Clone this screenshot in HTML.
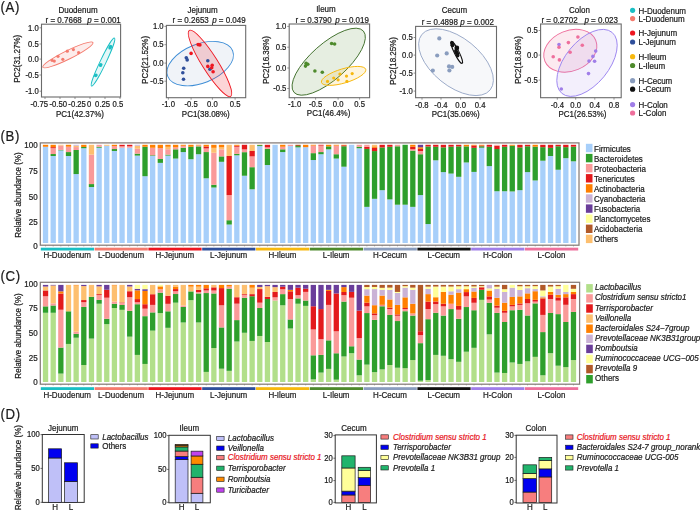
<!DOCTYPE html>
<html><head><meta charset="utf-8"><style>
html,body{margin:0;padding:0;background:#fff;width:700px;height:511px;overflow:hidden}
svg{display:block}
text{font-family:"Liberation Sans", sans-serif}
text.g{}
</style></head><body>
<svg width="700" height="511" viewBox="0 0 700 511" font-family='"Liberation Sans", sans-serif'>
<rect width="700" height="511" fill="#fff"/>
<ellipse cx="67.9" cy="54.9" rx="28.0" ry="4.3" transform="rotate(-26.4 67.9 54.9)" fill="#F47B6E" fill-opacity="0.14" stroke="#F47B6E" stroke-width="0.9"/>
<ellipse cx="103.0" cy="62.1" rx="26.6" ry="2.9" transform="rotate(-64.4 103.0 62.1)" fill="#1ABFC4" fill-opacity="0.12" stroke="#1ABFC4" stroke-width="0.9"/>
<circle cx="52.1" cy="60.3" r="1.6" fill="#F47B6E"/>
<circle cx="54.3" cy="61.1" r="1.6" fill="#F47B6E"/>
<circle cx="58" cy="56.3" r="1.6" fill="#F47B6E"/>
<circle cx="62.8" cy="59.3" r="1.6" fill="#F47B6E"/>
<circle cx="67.3" cy="51.2" r="1.6" fill="#F47B6E"/>
<circle cx="73.4" cy="49.6" r="1.6" fill="#F47B6E"/>
<circle cx="78.6" cy="52.6" r="1.6" fill="#F47B6E"/>
<circle cx="96.1" cy="75.1" r="1.6" fill="#1ABFC4"/>
<circle cx="95.5" cy="75.6" r="1.6" fill="#1ABFC4"/>
<circle cx="100.5" cy="65.4" r="1.6" fill="#1ABFC4"/>
<circle cx="100.9" cy="64.6" r="1.6" fill="#1ABFC4"/>
<circle cx="110.2" cy="47.1" r="1.6" fill="#1ABFC4"/>
<circle cx="110.6" cy="46.3" r="1.6" fill="#1ABFC4"/>
<circle cx="109.9" cy="48.0" r="1.6" fill="#1ABFC4"/>
<line x1="39.50" y1="27.80" x2="41.50" y2="27.80" stroke="#6b6b6b" stroke-width="0.7"/>
<line x1="39.50" y1="44.00" x2="41.50" y2="44.00" stroke="#6b6b6b" stroke-width="0.7"/>
<line x1="39.50" y1="59.10" x2="41.50" y2="59.10" stroke="#6b6b6b" stroke-width="0.7"/>
<line x1="39.50" y1="75.00" x2="41.50" y2="75.00" stroke="#6b6b6b" stroke-width="0.7"/>
<line x1="39.50" y1="91.20" x2="41.50" y2="91.20" stroke="#6b6b6b" stroke-width="0.7"/>
<line x1="45.00" y1="97.00" x2="45.00" y2="99.00" stroke="#6b6b6b" stroke-width="0.7"/>
<line x1="60.00" y1="97.00" x2="60.00" y2="99.00" stroke="#6b6b6b" stroke-width="0.7"/>
<line x1="75.00" y1="97.00" x2="75.00" y2="99.00" stroke="#6b6b6b" stroke-width="0.7"/>
<line x1="90.00" y1="97.00" x2="90.00" y2="99.00" stroke="#6b6b6b" stroke-width="0.7"/>
<line x1="105.00" y1="97.00" x2="105.00" y2="99.00" stroke="#6b6b6b" stroke-width="0.7"/>
<line x1="120.00" y1="97.00" x2="120.00" y2="99.00" stroke="#6b6b6b" stroke-width="0.7"/>
<rect x="41.50" y="24.20" width="79.10" height="72.80" fill="none" stroke="#6b6b6b" stroke-width="1.1"/>
<ellipse cx="200.2" cy="63.6" rx="34.9" ry="19.5" transform="rotate(-21.6 200.2 63.6)" fill="#2F4F9B" fill-opacity="0.07" stroke="#3D8DD6" stroke-width="0.9"/>
<ellipse cx="210.0" cy="63.4" rx="38.9" ry="7.8" transform="rotate(57.8 210.0 63.4)" fill="#EE1620" fill-opacity="0.18" stroke="#EE1620" stroke-width="0.9"/>
<circle cx="186.3" cy="57.8" r="1.8" fill="#2F4F9B"/>
<circle cx="187.2" cy="59.9" r="1.8" fill="#2F4F9B"/>
<circle cx="183.7" cy="68.2" r="1.8" fill="#2F4F9B"/>
<circle cx="182.8" cy="72.7" r="1.8" fill="#2F4F9B"/>
<circle cx="183.5" cy="79.3" r="1.8" fill="#2F4F9B"/>
<circle cx="207.8" cy="60.8" r="1.8" fill="#2F4F9B"/>
<circle cx="209.9" cy="69.2" r="1.8" fill="#2F4F9B"/>
<circle cx="198.1" cy="44.6" r="1.8" fill="#EE1620"/>
<circle cx="199.9" cy="44.9" r="1.8" fill="#EE1620"/>
<circle cx="191.1" cy="53.4" r="1.8" fill="#EE1620"/>
<circle cx="207.8" cy="66.4" r="1.8" fill="#EE1620"/>
<circle cx="212.2" cy="65.2" r="1.8" fill="#EE1620"/>
<circle cx="211.7" cy="67.8" r="1.8" fill="#EE1620"/>
<circle cx="213.1" cy="71.7" r="1.8" fill="#EE1620"/>
<line x1="164.40" y1="26.40" x2="166.40" y2="26.40" stroke="#6b6b6b" stroke-width="0.7"/>
<line x1="164.40" y1="44.70" x2="166.40" y2="44.70" stroke="#6b6b6b" stroke-width="0.7"/>
<line x1="164.40" y1="63.10" x2="166.40" y2="63.10" stroke="#6b6b6b" stroke-width="0.7"/>
<line x1="164.40" y1="81.20" x2="166.40" y2="81.20" stroke="#6b6b6b" stroke-width="0.7"/>
<line x1="168.40" y1="97.70" x2="168.40" y2="99.70" stroke="#6b6b6b" stroke-width="0.7"/>
<line x1="191.10" y1="97.70" x2="191.10" y2="99.70" stroke="#6b6b6b" stroke-width="0.7"/>
<line x1="212.40" y1="97.70" x2="212.40" y2="99.70" stroke="#6b6b6b" stroke-width="0.7"/>
<line x1="235.10" y1="97.70" x2="235.10" y2="99.70" stroke="#6b6b6b" stroke-width="0.7"/>
<rect x="166.40" y="25.40" width="79.30" height="72.30" fill="none" stroke="#6b6b6b" stroke-width="1.1"/>
<ellipse cx="328.7" cy="61.7" rx="46.3" ry="18.0" transform="rotate(-41.5 328.7 61.7)" fill="#4E8A2C" fill-opacity="0.14" stroke="#3F6E2A" stroke-width="0.9"/>
<ellipse cx="343.6" cy="75.9" rx="23.1" ry="7.1" transform="rotate(-16.6 343.6 75.9)" fill="#F7B80E" fill-opacity="0.14" stroke="#F7B80E" stroke-width="0.9"/>
<circle cx="306.1" cy="63.4" r="1.8" fill="#4E8A2C"/>
<circle cx="305.5" cy="66.1" r="1.8" fill="#4E8A2C"/>
<circle cx="307.8" cy="64.3" r="1.8" fill="#4E8A2C"/>
<circle cx="314.9" cy="71" r="1.8" fill="#4E8A2C"/>
<circle cx="322.3" cy="72.2" r="1.8" fill="#4E8A2C"/>
<circle cx="331.6" cy="43.5" r="1.8" fill="#4E8A2C"/>
<circle cx="334.6" cy="44" r="1.8" fill="#4E8A2C"/>
<circle cx="327.5" cy="81.4" r="1.6" fill="#F7B80E"/>
<circle cx="333.7" cy="78" r="1.6" fill="#F7B80E"/>
<circle cx="338.1" cy="79.8" r="1.6" fill="#F7B80E"/>
<circle cx="339.9" cy="74" r="1.6" fill="#F7B80E"/>
<circle cx="346.5" cy="76.1" r="1.6" fill="#F7B80E"/>
<circle cx="346.9" cy="81.4" r="1.6" fill="#F7B80E"/>
<circle cx="352.2" cy="73.6" r="1.6" fill="#F7B80E"/>
<line x1="287.20" y1="26.40" x2="289.20" y2="26.40" stroke="#6b6b6b" stroke-width="0.7"/>
<line x1="287.20" y1="47.20" x2="289.20" y2="47.20" stroke="#6b6b6b" stroke-width="0.7"/>
<line x1="287.20" y1="68.00" x2="289.20" y2="68.00" stroke="#6b6b6b" stroke-width="0.7"/>
<line x1="287.20" y1="88.50" x2="289.20" y2="88.50" stroke="#6b6b6b" stroke-width="0.7"/>
<line x1="294.60" y1="97.70" x2="294.60" y2="99.70" stroke="#6b6b6b" stroke-width="0.7"/>
<line x1="315.60" y1="97.70" x2="315.60" y2="99.70" stroke="#6b6b6b" stroke-width="0.7"/>
<line x1="338.10" y1="97.70" x2="338.10" y2="99.70" stroke="#6b6b6b" stroke-width="0.7"/>
<line x1="359.60" y1="97.70" x2="359.60" y2="99.70" stroke="#6b6b6b" stroke-width="0.7"/>
<rect x="289.20" y="24.00" width="80.40" height="73.70" fill="none" stroke="#6b6b6b" stroke-width="1.1"/>
<ellipse cx="456.0" cy="62.2" rx="44" ry="24" transform="rotate(39 456.0 62.2)" fill="#8A9DBE" fill-opacity="0.07" stroke="#9AA9C8" stroke-width="0.9"/>
<ellipse cx="456.7" cy="52.4" rx="12.2" ry="2.3" transform="rotate(63.5 456.7 52.4)" fill="#ffffff" fill-opacity="0.6" stroke="#111" stroke-width="1.1"/>
<circle cx="439.3" cy="38.4" r="2.1" fill="#8A9DBE"/>
<circle cx="437.2" cy="55.5" r="2.1" fill="#8A9DBE"/>
<circle cx="446.7" cy="53.4" r="2.1" fill="#8A9DBE"/>
<circle cx="432.8" cy="70.6" r="2.1" fill="#8A9DBE"/>
<circle cx="449" cy="66.4" r="2.1" fill="#8A9DBE"/>
<circle cx="452.2" cy="66.9" r="2.1" fill="#8A9DBE"/>
<circle cx="449.4" cy="70.5" r="2.1" fill="#8A9DBE"/>
<circle cx="452.1" cy="42.8" r="1.9" fill="#111111"/>
<circle cx="452.5" cy="45.3" r="1.9" fill="#111111"/>
<circle cx="456.8" cy="47.9" r="1.9" fill="#111111"/>
<circle cx="455.9" cy="50.9" r="1.9" fill="#111111"/>
<circle cx="456.6" cy="52.4" r="1.9" fill="#111111"/>
<circle cx="457.4" cy="53.8" r="1.9" fill="#111111"/>
<circle cx="457.6" cy="55.6" r="1.9" fill="#111111"/>
<circle cx="456.8" cy="47.9" r="2.4" fill="#111111"/>
<line x1="413.60" y1="37.50" x2="415.60" y2="37.50" stroke="#6b6b6b" stroke-width="0.7"/>
<line x1="413.60" y1="55.10" x2="415.60" y2="55.10" stroke="#6b6b6b" stroke-width="0.7"/>
<line x1="413.60" y1="73.10" x2="415.60" y2="73.10" stroke="#6b6b6b" stroke-width="0.7"/>
<line x1="413.60" y1="91.10" x2="415.60" y2="91.10" stroke="#6b6b6b" stroke-width="0.7"/>
<line x1="422.00" y1="97.70" x2="422.00" y2="99.70" stroke="#6b6b6b" stroke-width="0.7"/>
<line x1="441.00" y1="97.70" x2="441.00" y2="99.70" stroke="#6b6b6b" stroke-width="0.7"/>
<line x1="460.60" y1="97.70" x2="460.60" y2="99.70" stroke="#6b6b6b" stroke-width="0.7"/>
<line x1="480.10" y1="97.70" x2="480.10" y2="99.70" stroke="#6b6b6b" stroke-width="0.7"/>
<rect x="415.60" y="26.40" width="80.90" height="71.30" fill="none" stroke="#6b6b6b" stroke-width="1.1"/>
<ellipse cx="570.3" cy="50.75" rx="27.5" ry="20.2" transform="rotate(-22.5 570.3 50.75)" fill="#EE6F9C" fill-opacity="0.15" stroke="#EE6F9C" stroke-width="0.9"/>
<ellipse cx="587.0" cy="62.9" rx="39.5" ry="21.8" transform="rotate(-50.6 587.0 62.9)" fill="#A07EE8" fill-opacity="0.12" stroke="#9C86F0" stroke-width="0.9"/>
<circle cx="559" cy="44.6" r="1.8" fill="#A07EE8"/>
<circle cx="589" cy="61.1" r="1.8" fill="#A07EE8"/>
<circle cx="592.9" cy="56.4" r="1.8" fill="#A07EE8"/>
<circle cx="594.6" cy="61.3" r="1.8" fill="#A07EE8"/>
<circle cx="595.7" cy="51.1" r="1.8" fill="#A07EE8"/>
<circle cx="588.5" cy="73.6" r="1.8" fill="#A07EE8"/>
<circle cx="561.3" cy="89" r="1.8" fill="#A07EE8"/>
<circle cx="559" cy="47.2" r="1.8" fill="#EE6F9C"/>
<circle cx="568.4" cy="42.6" r="1.8" fill="#EE6F9C"/>
<circle cx="577.9" cy="37" r="1.8" fill="#EE6F9C"/>
<circle cx="582.3" cy="45.3" r="1.8" fill="#EE6F9C"/>
<circle cx="570.1" cy="52.3" r="1.8" fill="#EE6F9C"/>
<circle cx="553.2" cy="56.7" r="1.8" fill="#EE6F9C"/>
<circle cx="559.4" cy="59.9" r="1.8" fill="#EE6F9C"/>
<line x1="538.60" y1="30.50" x2="540.60" y2="30.50" stroke="#6b6b6b" stroke-width="0.7"/>
<line x1="538.60" y1="55.10" x2="540.60" y2="55.10" stroke="#6b6b6b" stroke-width="0.7"/>
<line x1="538.60" y1="80.10" x2="540.60" y2="80.10" stroke="#6b6b6b" stroke-width="0.7"/>
<line x1="557.30" y1="97.70" x2="557.30" y2="99.70" stroke="#6b6b6b" stroke-width="0.7"/>
<line x1="575.70" y1="97.70" x2="575.70" y2="99.70" stroke="#6b6b6b" stroke-width="0.7"/>
<line x1="594.80" y1="97.70" x2="594.80" y2="99.70" stroke="#6b6b6b" stroke-width="0.7"/>
<line x1="614.00" y1="97.70" x2="614.00" y2="99.70" stroke="#6b6b6b" stroke-width="0.7"/>
<rect x="540.60" y="24.00" width="80.60" height="73.70" fill="none" stroke="#6b6b6b" stroke-width="1.1"/>
<circle cx="632.6" cy="10.3" r="2.6" fill="#1ABFC4"/>
<circle cx="632.6" cy="18.6" r="2.6" fill="#F47B6E"/>
<circle cx="632.6" cy="33.0" r="2.6" fill="#EE1620"/>
<circle cx="632.6" cy="42.0" r="2.6" fill="#2F4F9B"/>
<circle cx="632.6" cy="56.7" r="2.6" fill="#F7B80E"/>
<circle cx="632.6" cy="65.5" r="2.6" fill="#4E8A2C"/>
<circle cx="632.6" cy="80.7" r="2.6" fill="#8A9DBE"/>
<circle cx="632.6" cy="89.2" r="2.6" fill="#111111"/>
<circle cx="632.6" cy="104.6" r="2.6" fill="#A07EE8"/>
<circle cx="632.6" cy="113.0" r="2.6" fill="#EE6F9C"/>
<rect x="42.90" y="146.76" width="5.30" height="96.24" fill="#A7CFFA"/>
<rect x="42.90" y="144.80" width="5.30" height="1.96" fill="#FF7F00"/>
<line x1="45.55" y1="245.20" x2="45.55" y2="246.40" stroke="#6b6b6b" stroke-width="0.6"/>
<rect x="50.55" y="155.99" width="5.30" height="87.01" fill="#A7CFFA"/>
<rect x="50.55" y="154.03" width="5.30" height="1.96" fill="#2E9F2C"/>
<rect x="50.55" y="148.14" width="5.30" height="5.89" fill="#FA9A99"/>
<rect x="50.55" y="147.16" width="5.30" height="0.98" fill="#E31A1C"/>
<rect x="50.55" y="144.80" width="5.30" height="2.36" fill="#FF7F00"/>
<line x1="53.20" y1="245.20" x2="53.20" y2="246.40" stroke="#6b6b6b" stroke-width="0.6"/>
<rect x="58.20" y="150.40" width="5.30" height="92.60" fill="#A7CFFA"/>
<rect x="58.20" y="149.91" width="5.30" height="0.49" fill="#2E9F2C"/>
<rect x="58.20" y="145.49" width="5.30" height="4.42" fill="#FA9A99"/>
<rect x="58.20" y="144.80" width="5.30" height="0.69" fill="#FDBF6F"/>
<line x1="60.85" y1="245.20" x2="60.85" y2="246.40" stroke="#6b6b6b" stroke-width="0.6"/>
<rect x="65.85" y="155.99" width="5.30" height="87.01" fill="#A7CFFA"/>
<rect x="65.85" y="152.07" width="5.30" height="3.93" fill="#2E9F2C"/>
<rect x="65.85" y="146.67" width="5.30" height="5.40" fill="#FA9A99"/>
<rect x="65.85" y="144.80" width="5.30" height="1.87" fill="#FF7F00"/>
<line x1="68.50" y1="245.20" x2="68.50" y2="246.40" stroke="#6b6b6b" stroke-width="0.6"/>
<rect x="73.50" y="174.06" width="5.30" height="68.94" fill="#A7CFFA"/>
<rect x="73.50" y="150.00" width="5.30" height="24.06" fill="#2E9F2C"/>
<rect x="73.50" y="147.06" width="5.30" height="2.95" fill="#FA9A99"/>
<rect x="73.50" y="145.78" width="5.30" height="1.28" fill="#FDBF6F"/>
<rect x="73.50" y="144.80" width="5.30" height="0.98" fill="#CAB2D6"/>
<line x1="76.15" y1="245.20" x2="76.15" y2="246.40" stroke="#6b6b6b" stroke-width="0.6"/>
<rect x="81.16" y="148.24" width="5.30" height="94.76" fill="#A7CFFA"/>
<rect x="81.16" y="146.96" width="5.30" height="1.28" fill="#2E9F2C"/>
<rect x="81.16" y="144.80" width="5.30" height="2.16" fill="#FF7F00"/>
<line x1="83.81" y1="245.20" x2="83.81" y2="246.40" stroke="#6b6b6b" stroke-width="0.6"/>
<rect x="88.81" y="187.03" width="5.30" height="55.97" fill="#A7CFFA"/>
<rect x="88.81" y="184.08" width="5.30" height="2.95" fill="#2E9F2C"/>
<rect x="88.81" y="154.62" width="5.30" height="29.46" fill="#FA9A99"/>
<rect x="88.81" y="144.80" width="5.30" height="9.82" fill="#FDBF6F"/>
<line x1="91.46" y1="245.20" x2="91.46" y2="246.40" stroke="#6b6b6b" stroke-width="0.6"/>
<rect x="96.46" y="147.75" width="5.30" height="95.25" fill="#A7CFFA"/>
<rect x="96.46" y="146.76" width="5.30" height="0.98" fill="#2E9F2C"/>
<rect x="96.46" y="144.80" width="5.30" height="1.96" fill="#FA9A99"/>
<line x1="99.11" y1="245.20" x2="99.11" y2="246.40" stroke="#6b6b6b" stroke-width="0.6"/>
<rect x="104.11" y="145.78" width="5.30" height="97.22" fill="#A7CFFA"/>
<rect x="104.11" y="144.80" width="5.30" height="0.98" fill="#FDBF6F"/>
<line x1="106.76" y1="245.20" x2="106.76" y2="246.40" stroke="#6b6b6b" stroke-width="0.6"/>
<rect x="111.76" y="150.99" width="5.30" height="92.01" fill="#A7CFFA"/>
<rect x="111.76" y="149.02" width="5.30" height="1.96" fill="#2E9F2C"/>
<rect x="111.76" y="146.08" width="5.30" height="2.95" fill="#FA9A99"/>
<rect x="111.76" y="144.80" width="5.30" height="1.28" fill="#FF7F00"/>
<line x1="114.41" y1="245.20" x2="114.41" y2="246.40" stroke="#6b6b6b" stroke-width="0.6"/>
<rect x="119.41" y="147.75" width="5.30" height="95.25" fill="#A7CFFA"/>
<rect x="119.41" y="146.27" width="5.30" height="1.47" fill="#FA9A99"/>
<rect x="119.41" y="144.80" width="5.30" height="1.47" fill="#E31A1C"/>
<line x1="122.06" y1="245.20" x2="122.06" y2="246.40" stroke="#6b6b6b" stroke-width="0.6"/>
<rect x="127.06" y="147.75" width="5.30" height="95.25" fill="#A7CFFA"/>
<rect x="127.06" y="146.27" width="5.30" height="1.47" fill="#FA9A99"/>
<rect x="127.06" y="144.80" width="5.30" height="1.47" fill="#E31A1C"/>
<line x1="129.71" y1="245.20" x2="129.71" y2="246.40" stroke="#6b6b6b" stroke-width="0.6"/>
<rect x="134.71" y="155.60" width="5.30" height="87.40" fill="#A7CFFA"/>
<rect x="134.71" y="153.64" width="5.30" height="1.96" fill="#2E9F2C"/>
<rect x="134.71" y="148.73" width="5.30" height="4.91" fill="#FA9A99"/>
<rect x="134.71" y="145.78" width="5.30" height="2.95" fill="#FDBF6F"/>
<rect x="134.71" y="144.80" width="5.30" height="0.98" fill="#CAB2D6"/>
<line x1="137.36" y1="245.20" x2="137.36" y2="246.40" stroke="#6b6b6b" stroke-width="0.6"/>
<rect x="142.36" y="176.22" width="5.30" height="66.78" fill="#A7CFFA"/>
<rect x="142.36" y="146.76" width="5.30" height="29.46" fill="#2E9F2C"/>
<rect x="142.36" y="144.80" width="5.30" height="1.96" fill="#FF7F00"/>
<line x1="145.01" y1="245.20" x2="145.01" y2="246.40" stroke="#6b6b6b" stroke-width="0.6"/>
<rect x="150.01" y="155.99" width="5.30" height="87.01" fill="#A7CFFA"/>
<rect x="150.01" y="155.31" width="5.30" height="0.69" fill="#2E9F2C"/>
<rect x="150.01" y="147.75" width="5.30" height="7.56" fill="#FA9A99"/>
<rect x="150.01" y="144.80" width="5.30" height="2.95" fill="#FF7F00"/>
<line x1="152.66" y1="245.20" x2="152.66" y2="246.40" stroke="#6b6b6b" stroke-width="0.6"/>
<rect x="157.66" y="162.87" width="5.30" height="80.13" fill="#A7CFFA"/>
<rect x="157.66" y="158.94" width="5.30" height="3.93" fill="#2E9F2C"/>
<rect x="157.66" y="148.14" width="5.30" height="10.80" fill="#FA9A99"/>
<rect x="157.66" y="144.80" width="5.30" height="3.34" fill="#FF7F00"/>
<line x1="160.31" y1="245.20" x2="160.31" y2="246.40" stroke="#6b6b6b" stroke-width="0.6"/>
<rect x="165.32" y="155.60" width="5.30" height="87.40" fill="#A7CFFA"/>
<rect x="165.32" y="154.62" width="5.30" height="0.98" fill="#2E9F2C"/>
<rect x="165.32" y="149.22" width="5.30" height="5.40" fill="#FA9A99"/>
<rect x="165.32" y="146.76" width="5.30" height="2.45" fill="#FDBF6F"/>
<rect x="165.32" y="144.80" width="5.30" height="1.96" fill="#FF7F00"/>
<line x1="167.97" y1="245.20" x2="167.97" y2="246.40" stroke="#6b6b6b" stroke-width="0.6"/>
<rect x="172.97" y="158.55" width="5.30" height="84.45" fill="#A7CFFA"/>
<rect x="172.97" y="149.32" width="5.30" height="9.23" fill="#2E9F2C"/>
<rect x="172.97" y="147.35" width="5.30" height="1.96" fill="#FA9A99"/>
<rect x="172.97" y="144.80" width="5.30" height="2.55" fill="#FF7F00"/>
<line x1="175.62" y1="245.20" x2="175.62" y2="246.40" stroke="#6b6b6b" stroke-width="0.6"/>
<rect x="180.62" y="152.07" width="5.30" height="90.93" fill="#A7CFFA"/>
<rect x="180.62" y="147.75" width="5.30" height="4.32" fill="#2E9F2C"/>
<rect x="180.62" y="145.78" width="5.30" height="1.96" fill="#FA9A99"/>
<rect x="180.62" y="144.80" width="5.30" height="0.98" fill="#FF7F00"/>
<line x1="183.27" y1="245.20" x2="183.27" y2="246.40" stroke="#6b6b6b" stroke-width="0.6"/>
<rect x="188.27" y="159.24" width="5.30" height="83.76" fill="#A7CFFA"/>
<rect x="188.27" y="146.76" width="5.30" height="12.47" fill="#2E9F2C"/>
<rect x="188.27" y="144.80" width="5.30" height="1.96" fill="#FF7F00"/>
<line x1="190.92" y1="245.20" x2="190.92" y2="246.40" stroke="#6b6b6b" stroke-width="0.6"/>
<rect x="195.92" y="154.23" width="5.30" height="88.77" fill="#A7CFFA"/>
<rect x="195.92" y="146.37" width="5.30" height="7.86" fill="#2E9F2C"/>
<rect x="195.92" y="145.39" width="5.30" height="0.98" fill="#FA9A99"/>
<rect x="195.92" y="144.80" width="5.30" height="0.59" fill="#FF7F00"/>
<line x1="198.57" y1="245.20" x2="198.57" y2="246.40" stroke="#6b6b6b" stroke-width="0.6"/>
<rect x="203.57" y="178.29" width="5.30" height="64.71" fill="#A7CFFA"/>
<rect x="203.57" y="152.07" width="5.30" height="26.22" fill="#2E9F2C"/>
<rect x="203.57" y="148.43" width="5.30" height="3.63" fill="#FA9A99"/>
<rect x="203.57" y="146.47" width="5.30" height="1.96" fill="#E31A1C"/>
<rect x="203.57" y="144.80" width="5.30" height="1.67" fill="#FF7F00"/>
<line x1="206.22" y1="245.20" x2="206.22" y2="246.40" stroke="#6b6b6b" stroke-width="0.6"/>
<rect x="211.22" y="187.52" width="5.30" height="55.48" fill="#A7CFFA"/>
<rect x="211.22" y="184.77" width="5.30" height="2.75" fill="#2E9F2C"/>
<rect x="211.22" y="152.75" width="5.30" height="32.01" fill="#FA9A99"/>
<rect x="211.22" y="147.84" width="5.30" height="4.91" fill="#FDBF6F"/>
<rect x="211.22" y="144.80" width="5.30" height="3.04" fill="#FF7F00"/>
<line x1="213.87" y1="245.20" x2="213.87" y2="246.40" stroke="#6b6b6b" stroke-width="0.6"/>
<rect x="218.87" y="161.79" width="5.30" height="81.21" fill="#A7CFFA"/>
<rect x="218.87" y="156.39" width="5.30" height="5.40" fill="#2E9F2C"/>
<rect x="218.87" y="149.32" width="5.30" height="7.07" fill="#FA9A99"/>
<rect x="218.87" y="147.35" width="5.30" height="1.96" fill="#FDBF6F"/>
<rect x="218.87" y="144.80" width="5.30" height="2.55" fill="#FF7F00"/>
<line x1="221.52" y1="245.20" x2="221.52" y2="246.40" stroke="#6b6b6b" stroke-width="0.6"/>
<rect x="226.52" y="224.54" width="5.30" height="18.46" fill="#A7CFFA"/>
<rect x="226.52" y="220.22" width="5.30" height="4.32" fill="#2E9F2C"/>
<rect x="226.52" y="195.08" width="5.30" height="25.14" fill="#FA9A99"/>
<rect x="226.52" y="155.99" width="5.30" height="39.08" fill="#E31A1C"/>
<rect x="226.52" y="144.80" width="5.30" height="11.19" fill="#FDBF6F"/>
<line x1="229.17" y1="245.20" x2="229.17" y2="246.40" stroke="#6b6b6b" stroke-width="0.6"/>
<rect x="234.18" y="155.31" width="5.30" height="87.69" fill="#A7CFFA"/>
<rect x="234.18" y="153.83" width="5.30" height="1.47" fill="#2E9F2C"/>
<rect x="234.18" y="146.76" width="5.30" height="7.07" fill="#FA9A99"/>
<rect x="234.18" y="145.78" width="5.30" height="0.98" fill="#E31A1C"/>
<rect x="234.18" y="144.80" width="5.30" height="0.98" fill="#FF7F00"/>
<line x1="236.83" y1="245.20" x2="236.83" y2="246.40" stroke="#6b6b6b" stroke-width="0.6"/>
<rect x="241.83" y="175.73" width="5.30" height="67.27" fill="#A7CFFA"/>
<rect x="241.83" y="152.17" width="5.30" height="23.57" fill="#2E9F2C"/>
<rect x="241.83" y="149.42" width="5.30" height="2.75" fill="#FA9A99"/>
<rect x="241.83" y="144.80" width="5.30" height="4.62" fill="#E31A1C"/>
<line x1="244.48" y1="245.20" x2="244.48" y2="246.40" stroke="#6b6b6b" stroke-width="0.6"/>
<rect x="249.48" y="189.28" width="5.30" height="53.72" fill="#A7CFFA"/>
<rect x="249.48" y="167.19" width="5.30" height="22.09" fill="#2E9F2C"/>
<rect x="249.48" y="156.39" width="5.30" height="10.80" fill="#FA9A99"/>
<rect x="249.48" y="150.99" width="5.30" height="5.40" fill="#E31A1C"/>
<rect x="249.48" y="144.80" width="5.30" height="6.19" fill="#FDBF6F"/>
<line x1="252.13" y1="245.20" x2="252.13" y2="246.40" stroke="#6b6b6b" stroke-width="0.6"/>
<rect x="257.13" y="146.08" width="5.30" height="96.92" fill="#A7CFFA"/>
<rect x="257.13" y="145.09" width="5.30" height="0.98" fill="#2E9F2C"/>
<rect x="257.13" y="144.80" width="5.30" height="0.29" fill="#FF7F00"/>
<line x1="259.78" y1="245.20" x2="259.78" y2="246.40" stroke="#6b6b6b" stroke-width="0.6"/>
<rect x="264.78" y="165.03" width="5.30" height="77.97" fill="#A7CFFA"/>
<rect x="264.78" y="148.92" width="5.30" height="16.10" fill="#2E9F2C"/>
<rect x="264.78" y="147.35" width="5.30" height="1.57" fill="#FA9A99"/>
<rect x="264.78" y="144.80" width="5.30" height="2.55" fill="#E31A1C"/>
<line x1="267.43" y1="245.20" x2="267.43" y2="246.40" stroke="#6b6b6b" stroke-width="0.6"/>
<rect x="272.43" y="144.80" width="5.30" height="98.20" fill="#A7CFFA"/>
<line x1="275.08" y1="245.20" x2="275.08" y2="246.40" stroke="#6b6b6b" stroke-width="0.6"/>
<rect x="280.08" y="152.07" width="5.30" height="90.93" fill="#A7CFFA"/>
<rect x="280.08" y="149.32" width="5.30" height="2.75" fill="#2E9F2C"/>
<rect x="280.08" y="146.76" width="5.30" height="2.55" fill="#FA9A99"/>
<rect x="280.08" y="144.80" width="5.30" height="1.96" fill="#FF7F00"/>
<line x1="282.73" y1="245.20" x2="282.73" y2="246.40" stroke="#6b6b6b" stroke-width="0.6"/>
<rect x="287.73" y="146.08" width="5.30" height="96.92" fill="#A7CFFA"/>
<rect x="287.73" y="144.80" width="5.30" height="1.28" fill="#FA9A99"/>
<line x1="290.38" y1="245.20" x2="290.38" y2="246.40" stroke="#6b6b6b" stroke-width="0.6"/>
<rect x="295.38" y="147.35" width="5.30" height="95.65" fill="#A7CFFA"/>
<rect x="295.38" y="146.08" width="5.30" height="1.28" fill="#2E9F2C"/>
<rect x="295.38" y="144.80" width="5.30" height="1.28" fill="#B15928"/>
<line x1="298.03" y1="245.20" x2="298.03" y2="246.40" stroke="#6b6b6b" stroke-width="0.6"/>
<rect x="303.03" y="147.16" width="5.30" height="95.84" fill="#A7CFFA"/>
<rect x="303.03" y="144.80" width="5.30" height="2.36" fill="#FF7F00"/>
<line x1="305.68" y1="245.20" x2="305.68" y2="246.40" stroke="#6b6b6b" stroke-width="0.6"/>
<rect x="310.68" y="160.02" width="5.30" height="82.98" fill="#A7CFFA"/>
<rect x="310.68" y="153.15" width="5.30" height="6.87" fill="#2E9F2C"/>
<rect x="310.68" y="145.59" width="5.30" height="7.56" fill="#FA9A99"/>
<rect x="310.68" y="144.80" width="5.30" height="0.79" fill="#FF7F00"/>
<line x1="313.33" y1="245.20" x2="313.33" y2="246.40" stroke="#6b6b6b" stroke-width="0.6"/>
<rect x="318.34" y="154.23" width="5.30" height="88.77" fill="#A7CFFA"/>
<rect x="318.34" y="152.07" width="5.30" height="2.16" fill="#2E9F2C"/>
<rect x="318.34" y="145.59" width="5.30" height="6.48" fill="#FA9A99"/>
<rect x="318.34" y="144.80" width="5.30" height="0.79" fill="#E31A1C"/>
<line x1="320.99" y1="245.20" x2="320.99" y2="246.40" stroke="#6b6b6b" stroke-width="0.6"/>
<rect x="325.99" y="149.32" width="5.30" height="93.68" fill="#A7CFFA"/>
<rect x="325.99" y="146.37" width="5.30" height="2.95" fill="#2E9F2C"/>
<rect x="325.99" y="144.80" width="5.30" height="1.57" fill="#FF7F00"/>
<line x1="328.64" y1="245.20" x2="328.64" y2="246.40" stroke="#6b6b6b" stroke-width="0.6"/>
<rect x="333.64" y="158.55" width="5.30" height="84.45" fill="#A7CFFA"/>
<rect x="333.64" y="154.23" width="5.30" height="4.32" fill="#2E9F2C"/>
<rect x="333.64" y="145.59" width="5.30" height="8.64" fill="#FA9A99"/>
<rect x="333.64" y="144.80" width="5.30" height="0.79" fill="#FF7F00"/>
<line x1="336.29" y1="245.20" x2="336.29" y2="246.40" stroke="#6b6b6b" stroke-width="0.6"/>
<rect x="341.29" y="166.70" width="5.30" height="76.30" fill="#A7CFFA"/>
<rect x="341.29" y="146.27" width="5.30" height="20.43" fill="#2E9F2C"/>
<rect x="341.29" y="145.29" width="5.30" height="0.98" fill="#E31A1C"/>
<rect x="341.29" y="144.80" width="5.30" height="0.49" fill="#FF7F00"/>
<line x1="343.94" y1="245.20" x2="343.94" y2="246.40" stroke="#6b6b6b" stroke-width="0.6"/>
<rect x="348.94" y="144.80" width="5.30" height="98.20" fill="#A7CFFA"/>
<line x1="351.59" y1="245.20" x2="351.59" y2="246.40" stroke="#6b6b6b" stroke-width="0.6"/>
<rect x="356.59" y="148.24" width="5.30" height="94.76" fill="#A7CFFA"/>
<rect x="356.59" y="146.76" width="5.30" height="1.47" fill="#2E9F2C"/>
<rect x="356.59" y="144.80" width="5.30" height="1.96" fill="#FA9A99"/>
<line x1="359.24" y1="245.20" x2="359.24" y2="246.40" stroke="#6b6b6b" stroke-width="0.6"/>
<rect x="364.24" y="206.86" width="5.30" height="36.14" fill="#A7CFFA"/>
<rect x="364.24" y="148.92" width="5.30" height="57.94" fill="#2E9F2C"/>
<rect x="364.24" y="146.76" width="5.30" height="2.16" fill="#E31A1C"/>
<rect x="364.24" y="144.80" width="5.30" height="1.96" fill="#FA9A99"/>
<line x1="366.89" y1="245.20" x2="366.89" y2="246.40" stroke="#6b6b6b" stroke-width="0.6"/>
<rect x="371.89" y="198.81" width="5.30" height="44.19" fill="#A7CFFA"/>
<rect x="371.89" y="151.08" width="5.30" height="47.73" fill="#2E9F2C"/>
<rect x="371.89" y="147.84" width="5.30" height="3.24" fill="#E31A1C"/>
<rect x="371.89" y="146.37" width="5.30" height="1.47" fill="#FF7F00"/>
<rect x="371.89" y="144.80" width="5.30" height="1.57" fill="#FDBF6F"/>
<line x1="374.54" y1="245.20" x2="374.54" y2="246.40" stroke="#6b6b6b" stroke-width="0.6"/>
<rect x="379.54" y="190.17" width="5.30" height="52.83" fill="#A7CFFA"/>
<rect x="379.54" y="147.45" width="5.30" height="42.72" fill="#2E9F2C"/>
<rect x="379.54" y="144.80" width="5.30" height="2.65" fill="#E31A1C"/>
<line x1="382.19" y1="245.20" x2="382.19" y2="246.40" stroke="#6b6b6b" stroke-width="0.6"/>
<rect x="387.19" y="199.40" width="5.30" height="43.60" fill="#A7CFFA"/>
<rect x="387.19" y="146.76" width="5.30" height="52.64" fill="#2E9F2C"/>
<rect x="387.19" y="144.80" width="5.30" height="1.96" fill="#E31A1C"/>
<line x1="389.84" y1="245.20" x2="389.84" y2="246.40" stroke="#6b6b6b" stroke-width="0.6"/>
<rect x="394.85" y="204.70" width="5.30" height="38.30" fill="#A7CFFA"/>
<rect x="394.85" y="146.27" width="5.30" height="58.43" fill="#2E9F2C"/>
<rect x="394.85" y="144.80" width="5.30" height="1.47" fill="#FA9A99"/>
<line x1="397.50" y1="245.20" x2="397.50" y2="246.40" stroke="#6b6b6b" stroke-width="0.6"/>
<rect x="402.50" y="204.70" width="5.30" height="38.30" fill="#A7CFFA"/>
<rect x="402.50" y="144.80" width="5.30" height="59.90" fill="#2E9F2C"/>
<line x1="405.15" y1="245.20" x2="405.15" y2="246.40" stroke="#6b6b6b" stroke-width="0.6"/>
<rect x="410.15" y="206.86" width="5.30" height="36.14" fill="#A7CFFA"/>
<rect x="410.15" y="150.59" width="5.30" height="56.27" fill="#2E9F2C"/>
<rect x="410.15" y="149.32" width="5.30" height="1.28" fill="#FA9A99"/>
<rect x="410.15" y="146.76" width="5.30" height="2.55" fill="#E31A1C"/>
<rect x="410.15" y="144.80" width="5.30" height="1.96" fill="#FF7F00"/>
<line x1="412.80" y1="245.20" x2="412.80" y2="246.40" stroke="#6b6b6b" stroke-width="0.6"/>
<rect x="417.80" y="195.08" width="5.30" height="47.92" fill="#A7CFFA"/>
<rect x="417.80" y="154.23" width="5.30" height="40.85" fill="#2E9F2C"/>
<rect x="417.80" y="150.99" width="5.30" height="3.24" fill="#FA9A99"/>
<rect x="417.80" y="148.83" width="5.30" height="2.16" fill="#E31A1C"/>
<rect x="417.80" y="147.25" width="5.30" height="1.57" fill="#FF7F00"/>
<rect x="417.80" y="144.80" width="5.30" height="2.45" fill="#6A3D9A"/>
<line x1="420.45" y1="245.20" x2="420.45" y2="246.40" stroke="#6b6b6b" stroke-width="0.6"/>
<rect x="425.45" y="224.05" width="5.30" height="18.95" fill="#A7CFFA"/>
<rect x="425.45" y="146.47" width="5.30" height="77.58" fill="#2E9F2C"/>
<rect x="425.45" y="144.80" width="5.30" height="1.67" fill="#E31A1C"/>
<line x1="428.10" y1="245.20" x2="428.10" y2="246.40" stroke="#6b6b6b" stroke-width="0.6"/>
<rect x="433.10" y="160.32" width="5.30" height="82.68" fill="#A7CFFA"/>
<rect x="433.10" y="146.76" width="5.30" height="13.55" fill="#2E9F2C"/>
<rect x="433.10" y="144.80" width="5.30" height="1.96" fill="#E31A1C"/>
<line x1="435.75" y1="245.20" x2="435.75" y2="246.40" stroke="#6b6b6b" stroke-width="0.6"/>
<rect x="440.75" y="172.10" width="5.30" height="70.90" fill="#A7CFFA"/>
<rect x="440.75" y="147.35" width="5.30" height="24.75" fill="#2E9F2C"/>
<rect x="440.75" y="144.80" width="5.30" height="2.55" fill="#E31A1C"/>
<line x1="443.40" y1="245.20" x2="443.40" y2="246.40" stroke="#6b6b6b" stroke-width="0.6"/>
<rect x="448.40" y="173.57" width="5.30" height="69.43" fill="#A7CFFA"/>
<rect x="448.40" y="146.67" width="5.30" height="26.91" fill="#2E9F2C"/>
<rect x="448.40" y="144.80" width="5.30" height="1.87" fill="#E31A1C"/>
<line x1="451.05" y1="245.20" x2="451.05" y2="246.40" stroke="#6b6b6b" stroke-width="0.6"/>
<rect x="456.05" y="176.81" width="5.30" height="66.19" fill="#A7CFFA"/>
<rect x="456.05" y="146.37" width="5.30" height="30.44" fill="#2E9F2C"/>
<rect x="456.05" y="144.80" width="5.30" height="1.57" fill="#E31A1C"/>
<line x1="458.70" y1="245.20" x2="458.70" y2="246.40" stroke="#6b6b6b" stroke-width="0.6"/>
<rect x="463.70" y="162.48" width="5.30" height="80.52" fill="#A7CFFA"/>
<rect x="463.70" y="146.37" width="5.30" height="16.10" fill="#2E9F2C"/>
<rect x="463.70" y="144.80" width="5.30" height="1.57" fill="#FF7F00"/>
<line x1="466.35" y1="245.20" x2="466.35" y2="246.40" stroke="#6b6b6b" stroke-width="0.6"/>
<rect x="471.36" y="171.90" width="5.30" height="71.10" fill="#A7CFFA"/>
<rect x="471.36" y="147.84" width="5.30" height="24.06" fill="#2E9F2C"/>
<rect x="471.36" y="145.49" width="5.30" height="2.36" fill="#E31A1C"/>
<rect x="471.36" y="144.80" width="5.30" height="0.69" fill="#FF7F00"/>
<line x1="474.01" y1="245.20" x2="474.01" y2="246.40" stroke="#6b6b6b" stroke-width="0.6"/>
<rect x="479.01" y="147.75" width="5.30" height="95.25" fill="#A7CFFA"/>
<rect x="479.01" y="146.27" width="5.30" height="1.47" fill="#2E9F2C"/>
<rect x="479.01" y="145.49" width="5.30" height="0.79" fill="#E31A1C"/>
<rect x="479.01" y="144.80" width="5.30" height="0.69" fill="#FF7F00"/>
<line x1="481.66" y1="245.20" x2="481.66" y2="246.40" stroke="#6b6b6b" stroke-width="0.6"/>
<rect x="486.66" y="166.11" width="5.30" height="76.89" fill="#A7CFFA"/>
<rect x="486.66" y="146.76" width="5.30" height="19.35" fill="#2E9F2C"/>
<rect x="486.66" y="144.80" width="5.30" height="1.96" fill="#E31A1C"/>
<line x1="489.31" y1="245.20" x2="489.31" y2="246.40" stroke="#6b6b6b" stroke-width="0.6"/>
<rect x="494.31" y="191.25" width="5.30" height="51.75" fill="#A7CFFA"/>
<rect x="494.31" y="149.02" width="5.30" height="42.23" fill="#2E9F2C"/>
<rect x="494.31" y="145.78" width="5.30" height="3.24" fill="#E31A1C"/>
<rect x="494.31" y="144.80" width="5.30" height="0.98" fill="#FA9A99"/>
<line x1="496.96" y1="245.20" x2="496.96" y2="246.40" stroke="#6b6b6b" stroke-width="0.6"/>
<rect x="501.96" y="191.25" width="5.30" height="51.75" fill="#A7CFFA"/>
<rect x="501.96" y="146.76" width="5.30" height="44.48" fill="#2E9F2C"/>
<rect x="501.96" y="144.80" width="5.30" height="1.96" fill="#E31A1C"/>
<line x1="504.61" y1="245.20" x2="504.61" y2="246.40" stroke="#6b6b6b" stroke-width="0.6"/>
<rect x="509.61" y="191.44" width="5.30" height="51.55" fill="#A7CFFA"/>
<rect x="509.61" y="145.68" width="5.30" height="45.76" fill="#2E9F2C"/>
<rect x="509.61" y="144.80" width="5.30" height="0.88" fill="#FF7F00"/>
<line x1="512.26" y1="245.20" x2="512.26" y2="246.40" stroke="#6b6b6b" stroke-width="0.6"/>
<rect x="517.26" y="190.17" width="5.30" height="52.83" fill="#A7CFFA"/>
<rect x="517.26" y="147.45" width="5.30" height="42.72" fill="#2E9F2C"/>
<rect x="517.26" y="144.80" width="5.30" height="2.65" fill="#E31A1C"/>
<line x1="519.91" y1="245.20" x2="519.91" y2="246.40" stroke="#6b6b6b" stroke-width="0.6"/>
<rect x="524.91" y="172.10" width="5.30" height="70.90" fill="#A7CFFA"/>
<rect x="524.91" y="146.27" width="5.30" height="25.83" fill="#2E9F2C"/>
<rect x="524.91" y="144.80" width="5.30" height="1.47" fill="#E31A1C"/>
<line x1="527.56" y1="245.20" x2="527.56" y2="246.40" stroke="#6b6b6b" stroke-width="0.6"/>
<rect x="532.56" y="180.45" width="5.30" height="62.55" fill="#A7CFFA"/>
<rect x="532.56" y="146.67" width="5.30" height="33.78" fill="#2E9F2C"/>
<rect x="532.56" y="144.80" width="5.30" height="1.87" fill="#FF7F00"/>
<line x1="535.21" y1="245.20" x2="535.21" y2="246.40" stroke="#6b6b6b" stroke-width="0.6"/>
<rect x="540.22" y="160.71" width="5.30" height="82.29" fill="#A7CFFA"/>
<rect x="540.22" y="147.16" width="5.30" height="13.55" fill="#2E9F2C"/>
<rect x="540.22" y="144.80" width="5.30" height="2.36" fill="#E31A1C"/>
<line x1="542.87" y1="245.20" x2="542.87" y2="246.40" stroke="#6b6b6b" stroke-width="0.6"/>
<rect x="547.87" y="155.99" width="5.30" height="87.01" fill="#A7CFFA"/>
<rect x="547.87" y="147.84" width="5.30" height="8.15" fill="#2E9F2C"/>
<rect x="547.87" y="144.80" width="5.30" height="3.04" fill="#E31A1C"/>
<line x1="550.52" y1="245.20" x2="550.52" y2="246.40" stroke="#6b6b6b" stroke-width="0.6"/>
<rect x="555.52" y="169.74" width="5.30" height="73.26" fill="#A7CFFA"/>
<rect x="555.52" y="146.27" width="5.30" height="23.47" fill="#2E9F2C"/>
<rect x="555.52" y="144.80" width="5.30" height="1.47" fill="#E31A1C"/>
<line x1="558.17" y1="245.20" x2="558.17" y2="246.40" stroke="#6b6b6b" stroke-width="0.6"/>
<rect x="563.17" y="158.16" width="5.30" height="84.84" fill="#A7CFFA"/>
<rect x="563.17" y="147.16" width="5.30" height="11.00" fill="#2E9F2C"/>
<rect x="563.17" y="144.80" width="5.30" height="2.36" fill="#E31A1C"/>
<line x1="565.82" y1="245.20" x2="565.82" y2="246.40" stroke="#6b6b6b" stroke-width="0.6"/>
<rect x="570.82" y="161.30" width="5.30" height="81.70" fill="#A7CFFA"/>
<rect x="570.82" y="146.67" width="5.30" height="14.63" fill="#2E9F2C"/>
<rect x="570.82" y="144.80" width="5.30" height="1.87" fill="#E31A1C"/>
<line x1="573.47" y1="245.20" x2="573.47" y2="246.40" stroke="#6b6b6b" stroke-width="0.6"/>
<rect x="40.30" y="142.90" width="538.70" height="102.30" fill="none" stroke="#857c78" stroke-width="1.25"/>
<rect x="40.80" y="247.70" width="53.20" height="2.80" fill="#1ABFC4"/>
<rect x="94.60" y="247.70" width="53.20" height="2.80" fill="#F47B6E"/>
<rect x="148.40" y="247.70" width="53.20" height="2.80" fill="#EE1620"/>
<rect x="202.20" y="247.70" width="53.20" height="2.80" fill="#2F4F9B"/>
<rect x="256.00" y="247.70" width="53.20" height="2.80" fill="#F7B80E"/>
<rect x="309.80" y="247.70" width="53.20" height="2.80" fill="#4E8A2C"/>
<rect x="363.60" y="247.70" width="53.20" height="2.80" fill="#8A9DBE"/>
<rect x="417.40" y="247.70" width="53.20" height="2.80" fill="#111111"/>
<rect x="471.20" y="247.70" width="53.20" height="2.80" fill="#A07EE8"/>
<rect x="525.00" y="247.70" width="53.20" height="2.80" fill="#EE6F9C"/>
<rect x="585.90" y="143.80" width="6.60" height="8.40" fill="#A7CFFA"/>
<rect x="585.90" y="153.90" width="6.60" height="8.40" fill="#2E9F2C"/>
<rect x="585.90" y="164.00" width="6.60" height="8.40" fill="#FA9A99"/>
<rect x="585.90" y="174.10" width="6.60" height="8.40" fill="#E31A1C"/>
<rect x="585.90" y="184.20" width="6.60" height="8.40" fill="#FF7F00"/>
<rect x="585.90" y="194.30" width="6.60" height="8.40" fill="#CAB2D6"/>
<rect x="585.90" y="204.40" width="6.60" height="8.40" fill="#6A3D9A"/>
<rect x="585.90" y="214.50" width="6.60" height="8.40" fill="#FFFF99"/>
<rect x="585.90" y="224.60" width="6.60" height="8.40" fill="#B15928"/>
<rect x="585.90" y="234.70" width="6.60" height="8.40" fill="#FDBF6F"/>
<rect x="42.90" y="312.77" width="5.30" height="69.23" fill="#B2DF8A"/>
<rect x="42.90" y="306.36" width="5.30" height="6.41" fill="#2E9F2C"/>
<rect x="42.90" y="296.26" width="5.30" height="10.10" fill="#FA9A99"/>
<rect x="42.90" y="290.43" width="5.30" height="5.83" fill="#E31A1C"/>
<rect x="42.90" y="286.55" width="5.30" height="3.88" fill="#FDBF6F"/>
<rect x="42.90" y="284.90" width="5.30" height="1.65" fill="#6A3D9A"/>
<line x1="45.55" y1="384.20" x2="45.55" y2="385.40" stroke="#6b6b6b" stroke-width="0.6"/>
<rect x="50.55" y="312.77" width="5.30" height="69.23" fill="#B2DF8A"/>
<rect x="50.55" y="305.49" width="5.30" height="7.28" fill="#2E9F2C"/>
<rect x="50.55" y="303.35" width="5.30" height="2.14" fill="#FA9A99"/>
<rect x="50.55" y="285.48" width="5.30" height="17.87" fill="#FDBF6F"/>
<rect x="50.55" y="284.90" width="5.30" height="0.58" fill="#6A3D9A"/>
<line x1="53.20" y1="384.20" x2="53.20" y2="385.40" stroke="#6b6b6b" stroke-width="0.6"/>
<rect x="58.20" y="373.59" width="5.30" height="8.41" fill="#B2DF8A"/>
<rect x="58.20" y="347.58" width="5.30" height="26.01" fill="#2E9F2C"/>
<rect x="58.20" y="309.74" width="5.30" height="37.84" fill="#FA9A99"/>
<rect x="58.20" y="293.51" width="5.30" height="16.23" fill="#E31A1C"/>
<rect x="58.20" y="291.35" width="5.30" height="2.15" fill="#FF7F00"/>
<rect x="58.20" y="284.90" width="5.30" height="6.45" fill="#6A3D9A"/>
<line x1="60.85" y1="384.20" x2="60.85" y2="385.40" stroke="#6b6b6b" stroke-width="0.6"/>
<rect x="65.85" y="343.94" width="5.30" height="38.06" fill="#B2DF8A"/>
<rect x="65.85" y="311.31" width="5.30" height="32.63" fill="#2E9F2C"/>
<rect x="65.85" y="284.90" width="5.30" height="26.41" fill="#FDBF6F"/>
<line x1="68.50" y1="384.20" x2="68.50" y2="385.40" stroke="#6b6b6b" stroke-width="0.6"/>
<rect x="73.50" y="337.72" width="5.30" height="44.28" fill="#B2DF8A"/>
<rect x="73.50" y="333.84" width="5.30" height="3.88" fill="#2E9F2C"/>
<rect x="73.50" y="331.70" width="5.30" height="2.14" fill="#FA9A99"/>
<rect x="73.50" y="285.48" width="5.30" height="46.22" fill="#FDBF6F"/>
<rect x="73.50" y="284.90" width="5.30" height="0.58" fill="#FF7F00"/>
<line x1="76.15" y1="384.20" x2="76.15" y2="385.40" stroke="#6b6b6b" stroke-width="0.6"/>
<rect x="81.16" y="365.01" width="5.30" height="16.99" fill="#B2DF8A"/>
<rect x="81.16" y="306.94" width="5.30" height="58.07" fill="#2E9F2C"/>
<rect x="81.16" y="302.18" width="5.30" height="4.76" fill="#FA9A99"/>
<rect x="81.16" y="300.05" width="5.30" height="2.14" fill="#E31A1C"/>
<rect x="81.16" y="286.07" width="5.30" height="13.98" fill="#FDBF6F"/>
<rect x="81.16" y="284.90" width="5.30" height="1.17" fill="#6A3D9A"/>
<line x1="83.81" y1="384.20" x2="83.81" y2="385.40" stroke="#6b6b6b" stroke-width="0.6"/>
<rect x="88.81" y="338.60" width="5.30" height="43.40" fill="#B2DF8A"/>
<rect x="88.81" y="296.84" width="5.30" height="41.75" fill="#2E9F2C"/>
<rect x="88.81" y="284.90" width="5.30" height="11.94" fill="#FDBF6F"/>
<line x1="91.46" y1="384.20" x2="91.46" y2="385.40" stroke="#6b6b6b" stroke-width="0.6"/>
<rect x="96.46" y="303.74" width="5.30" height="78.26" fill="#B2DF8A"/>
<rect x="96.46" y="299.85" width="5.30" height="3.88" fill="#2E9F2C"/>
<rect x="96.46" y="295.10" width="5.30" height="4.76" fill="#FA9A99"/>
<rect x="96.46" y="294.12" width="5.30" height="0.97" fill="#E31A1C"/>
<rect x="96.46" y="286.36" width="5.30" height="7.77" fill="#FDBF6F"/>
<rect x="96.46" y="284.90" width="5.30" height="1.46" fill="#6A3D9A"/>
<line x1="99.11" y1="384.20" x2="99.11" y2="385.40" stroke="#6b6b6b" stroke-width="0.6"/>
<rect x="104.11" y="324.13" width="5.30" height="57.87" fill="#B2DF8A"/>
<rect x="104.11" y="318.79" width="5.30" height="5.34" fill="#2E9F2C"/>
<rect x="104.11" y="297.72" width="5.30" height="21.07" fill="#FA9A99"/>
<rect x="104.11" y="289.75" width="5.30" height="7.96" fill="#E31A1C"/>
<rect x="104.11" y="284.90" width="5.30" height="4.86" fill="#6A3D9A"/>
<line x1="106.76" y1="384.20" x2="106.76" y2="385.40" stroke="#6b6b6b" stroke-width="0.6"/>
<rect x="111.76" y="308.01" width="5.30" height="73.99" fill="#B2DF8A"/>
<rect x="111.76" y="303.74" width="5.30" height="4.27" fill="#2E9F2C"/>
<rect x="111.76" y="301.60" width="5.30" height="2.14" fill="#FA9A99"/>
<rect x="111.76" y="285.48" width="5.30" height="16.12" fill="#FDBF6F"/>
<rect x="111.76" y="284.90" width="5.30" height="0.58" fill="#FF7F00"/>
<line x1="114.41" y1="384.20" x2="114.41" y2="385.40" stroke="#6b6b6b" stroke-width="0.6"/>
<rect x="119.41" y="309.83" width="5.30" height="72.17" fill="#B2DF8A"/>
<rect x="119.41" y="304.98" width="5.30" height="4.85" fill="#2E9F2C"/>
<rect x="119.41" y="302.85" width="5.30" height="2.13" fill="#FA9A99"/>
<rect x="119.41" y="302.36" width="5.30" height="0.49" fill="#E31A1C"/>
<rect x="119.41" y="284.90" width="5.30" height="17.46" fill="#FDBF6F"/>
<line x1="122.06" y1="384.20" x2="122.06" y2="385.40" stroke="#6b6b6b" stroke-width="0.6"/>
<rect x="127.06" y="336.65" width="5.30" height="45.35" fill="#B2DF8A"/>
<rect x="127.06" y="310.83" width="5.30" height="25.83" fill="#2E9F2C"/>
<rect x="127.06" y="297.23" width="5.30" height="13.59" fill="#FA9A99"/>
<rect x="127.06" y="291.21" width="5.30" height="6.02" fill="#E31A1C"/>
<rect x="127.06" y="286.45" width="5.30" height="4.76" fill="#FDBF6F"/>
<rect x="127.06" y="284.90" width="5.30" height="1.55" fill="#6A3D9A"/>
<line x1="129.71" y1="384.20" x2="129.71" y2="385.40" stroke="#6b6b6b" stroke-width="0.6"/>
<rect x="134.71" y="354.91" width="5.30" height="27.09" fill="#B2DF8A"/>
<rect x="134.71" y="304.22" width="5.30" height="50.69" fill="#2E9F2C"/>
<rect x="134.71" y="302.28" width="5.30" height="1.94" fill="#FA9A99"/>
<rect x="134.71" y="299.08" width="5.30" height="3.20" fill="#E31A1C"/>
<rect x="134.71" y="290.34" width="5.30" height="8.74" fill="#FF7F00"/>
<rect x="134.71" y="288.78" width="5.30" height="1.55" fill="#6A3D9A"/>
<rect x="134.71" y="284.90" width="5.30" height="3.88" fill="#FFFF99"/>
<line x1="137.36" y1="384.20" x2="137.36" y2="385.40" stroke="#6b6b6b" stroke-width="0.6"/>
<rect x="142.36" y="363.94" width="5.30" height="18.06" fill="#B2DF8A"/>
<rect x="142.36" y="316.17" width="5.30" height="47.77" fill="#2E9F2C"/>
<rect x="142.36" y="308.69" width="5.30" height="7.48" fill="#FA9A99"/>
<rect x="142.36" y="304.22" width="5.30" height="4.47" fill="#E31A1C"/>
<rect x="142.36" y="290.92" width="5.30" height="13.30" fill="#FF7F00"/>
<rect x="142.36" y="289.17" width="5.30" height="1.75" fill="#6A3D9A"/>
<rect x="142.36" y="284.90" width="5.30" height="4.27" fill="#FFFF99"/>
<line x1="145.01" y1="384.20" x2="145.01" y2="385.40" stroke="#6b6b6b" stroke-width="0.6"/>
<rect x="150.01" y="330.63" width="5.30" height="51.37" fill="#B2DF8A"/>
<rect x="150.01" y="312.38" width="5.30" height="18.25" fill="#2E9F2C"/>
<rect x="150.01" y="304.90" width="5.30" height="7.48" fill="#FA9A99"/>
<rect x="150.01" y="294.22" width="5.30" height="10.68" fill="#E31A1C"/>
<rect x="150.01" y="284.90" width="5.30" height="9.32" fill="#FDBF6F"/>
<line x1="152.66" y1="384.20" x2="152.66" y2="385.40" stroke="#6b6b6b" stroke-width="0.6"/>
<rect x="157.66" y="313.06" width="5.30" height="68.94" fill="#B2DF8A"/>
<rect x="157.66" y="292.67" width="5.30" height="20.39" fill="#2E9F2C"/>
<rect x="157.66" y="289.27" width="5.30" height="3.40" fill="#FA9A99"/>
<rect x="157.66" y="286.36" width="5.30" height="2.91" fill="#FF7F00"/>
<rect x="157.66" y="284.90" width="5.30" height="1.46" fill="#FFFF99"/>
<line x1="160.31" y1="384.20" x2="160.31" y2="385.40" stroke="#6b6b6b" stroke-width="0.6"/>
<rect x="165.32" y="327.82" width="5.30" height="54.18" fill="#B2DF8A"/>
<rect x="165.32" y="311.31" width="5.30" height="16.51" fill="#2E9F2C"/>
<rect x="165.32" y="303.83" width="5.30" height="7.48" fill="#FA9A99"/>
<rect x="165.32" y="295.68" width="5.30" height="8.16" fill="#E31A1C"/>
<rect x="165.32" y="284.90" width="5.30" height="10.78" fill="#FDBF6F"/>
<line x1="167.97" y1="384.20" x2="167.97" y2="385.40" stroke="#6b6b6b" stroke-width="0.6"/>
<rect x="172.97" y="302.67" width="5.30" height="79.33" fill="#B2DF8A"/>
<rect x="172.97" y="294.03" width="5.30" height="8.64" fill="#2E9F2C"/>
<rect x="172.97" y="291.21" width="5.30" height="2.82" fill="#FA9A99"/>
<rect x="172.97" y="289.08" width="5.30" height="2.14" fill="#E31A1C"/>
<rect x="172.97" y="286.55" width="5.30" height="2.52" fill="#FF7F00"/>
<rect x="172.97" y="284.90" width="5.30" height="1.65" fill="#FDBF6F"/>
<line x1="175.62" y1="384.20" x2="175.62" y2="385.40" stroke="#6b6b6b" stroke-width="0.6"/>
<rect x="180.62" y="322.48" width="5.30" height="59.52" fill="#B2DF8A"/>
<rect x="180.62" y="306.94" width="5.30" height="15.54" fill="#2E9F2C"/>
<rect x="180.62" y="305.49" width="5.30" height="1.46" fill="#FA9A99"/>
<rect x="180.62" y="284.90" width="5.30" height="20.59" fill="#FDBF6F"/>
<line x1="183.27" y1="384.20" x2="183.27" y2="385.40" stroke="#6b6b6b" stroke-width="0.6"/>
<rect x="188.27" y="300.14" width="5.30" height="81.86" fill="#B2DF8A"/>
<rect x="188.27" y="291.41" width="5.30" height="8.74" fill="#2E9F2C"/>
<rect x="188.27" y="286.65" width="5.30" height="4.76" fill="#FDBF6F"/>
<rect x="188.27" y="284.90" width="5.30" height="1.75" fill="#FF7F00"/>
<line x1="190.92" y1="384.20" x2="190.92" y2="385.40" stroke="#6b6b6b" stroke-width="0.6"/>
<rect x="195.92" y="322.48" width="5.30" height="59.52" fill="#B2DF8A"/>
<rect x="195.92" y="293.44" width="5.30" height="29.03" fill="#2E9F2C"/>
<rect x="195.92" y="291.99" width="5.30" height="1.46" fill="#FA9A99"/>
<rect x="195.92" y="289.85" width="5.30" height="2.14" fill="#E31A1C"/>
<rect x="195.92" y="286.65" width="5.30" height="3.20" fill="#FDBF6F"/>
<rect x="195.92" y="284.90" width="5.30" height="1.75" fill="#FF7F00"/>
<line x1="198.57" y1="384.20" x2="198.57" y2="385.40" stroke="#6b6b6b" stroke-width="0.6"/>
<rect x="203.57" y="371.90" width="5.30" height="10.10" fill="#B2DF8A"/>
<rect x="203.57" y="293.06" width="5.30" height="78.85" fill="#2E9F2C"/>
<rect x="203.57" y="290.43" width="5.30" height="2.62" fill="#FA9A99"/>
<rect x="203.57" y="288.30" width="5.30" height="2.14" fill="#E31A1C"/>
<rect x="203.57" y="284.90" width="5.30" height="3.40" fill="#FF7F00"/>
<line x1="206.22" y1="384.20" x2="206.22" y2="385.40" stroke="#6b6b6b" stroke-width="0.6"/>
<rect x="211.22" y="348.01" width="5.30" height="33.99" fill="#B2DF8A"/>
<rect x="211.22" y="293.44" width="5.30" height="54.57" fill="#2E9F2C"/>
<rect x="211.22" y="290.53" width="5.30" height="2.91" fill="#FA9A99"/>
<rect x="211.22" y="287.33" width="5.30" height="3.20" fill="#E31A1C"/>
<rect x="211.22" y="284.90" width="5.30" height="2.43" fill="#FDBF6F"/>
<line x1="213.87" y1="384.20" x2="213.87" y2="385.40" stroke="#6b6b6b" stroke-width="0.6"/>
<rect x="218.87" y="368.70" width="5.30" height="13.30" fill="#B2DF8A"/>
<rect x="218.87" y="327.43" width="5.30" height="41.27" fill="#2E9F2C"/>
<rect x="218.87" y="305.29" width="5.30" height="22.14" fill="#FA9A99"/>
<rect x="218.87" y="288.10" width="5.30" height="17.19" fill="#E31A1C"/>
<rect x="218.87" y="284.90" width="5.30" height="3.20" fill="#FF7F00"/>
<line x1="221.52" y1="384.20" x2="221.52" y2="385.40" stroke="#6b6b6b" stroke-width="0.6"/>
<rect x="226.52" y="370.83" width="5.30" height="11.17" fill="#B2DF8A"/>
<rect x="226.52" y="288.69" width="5.30" height="82.15" fill="#2E9F2C"/>
<rect x="226.52" y="286.55" width="5.30" height="2.14" fill="#FA9A99"/>
<rect x="226.52" y="284.90" width="5.30" height="1.65" fill="#FF7F00"/>
<line x1="229.17" y1="384.20" x2="229.17" y2="385.40" stroke="#6b6b6b" stroke-width="0.6"/>
<rect x="234.18" y="341.52" width="5.30" height="40.48" fill="#B2DF8A"/>
<rect x="234.18" y="320.10" width="5.30" height="21.41" fill="#2E9F2C"/>
<rect x="234.18" y="303.67" width="5.30" height="16.43" fill="#FA9A99"/>
<rect x="234.18" y="297.22" width="5.30" height="6.45" fill="#E31A1C"/>
<rect x="234.18" y="284.90" width="5.30" height="12.32" fill="#FDBF6F"/>
<line x1="236.83" y1="384.20" x2="236.83" y2="385.40" stroke="#6b6b6b" stroke-width="0.6"/>
<rect x="241.83" y="332.77" width="5.30" height="49.23" fill="#B2DF8A"/>
<rect x="241.83" y="297.81" width="5.30" height="34.96" fill="#2E9F2C"/>
<rect x="241.83" y="294.90" width="5.30" height="2.91" fill="#FA9A99"/>
<rect x="241.83" y="294.12" width="5.30" height="0.78" fill="#E31A1C"/>
<rect x="241.83" y="284.90" width="5.30" height="9.22" fill="#FDBF6F"/>
<line x1="244.48" y1="384.20" x2="244.48" y2="385.40" stroke="#6b6b6b" stroke-width="0.6"/>
<rect x="249.48" y="340.93" width="5.30" height="41.07" fill="#B2DF8A"/>
<rect x="249.48" y="296.26" width="5.30" height="44.67" fill="#2E9F2C"/>
<rect x="249.48" y="294.12" width="5.30" height="2.14" fill="#E31A1C"/>
<rect x="249.48" y="287.72" width="5.30" height="6.41" fill="#FDBF6F"/>
<rect x="249.48" y="284.90" width="5.30" height="2.82" fill="#FF7F00"/>
<line x1="252.13" y1="384.20" x2="252.13" y2="385.40" stroke="#6b6b6b" stroke-width="0.6"/>
<rect x="257.13" y="335.97" width="5.30" height="46.03" fill="#B2DF8A"/>
<rect x="257.13" y="308.01" width="5.30" height="27.96" fill="#2E9F2C"/>
<rect x="257.13" y="302.67" width="5.30" height="5.34" fill="#FA9A99"/>
<rect x="257.13" y="289.08" width="5.30" height="13.59" fill="#E31A1C"/>
<rect x="257.13" y="286.94" width="5.30" height="2.14" fill="#FDBF6F"/>
<rect x="257.13" y="284.90" width="5.30" height="2.04" fill="#6A3D9A"/>
<line x1="259.78" y1="384.20" x2="259.78" y2="385.40" stroke="#6b6b6b" stroke-width="0.6"/>
<rect x="264.78" y="341.99" width="5.30" height="40.01" fill="#B2DF8A"/>
<rect x="264.78" y="298.98" width="5.30" height="43.02" fill="#2E9F2C"/>
<rect x="264.78" y="296.84" width="5.30" height="2.14" fill="#E31A1C"/>
<rect x="264.78" y="286.16" width="5.30" height="10.68" fill="#FDBF6F"/>
<rect x="264.78" y="284.90" width="5.30" height="1.26" fill="#6A3D9A"/>
<line x1="267.43" y1="384.20" x2="267.43" y2="385.40" stroke="#6b6b6b" stroke-width="0.6"/>
<rect x="272.43" y="300.53" width="5.30" height="81.47" fill="#B2DF8A"/>
<rect x="272.43" y="297.33" width="5.30" height="3.20" fill="#FA9A99"/>
<rect x="272.43" y="291.99" width="5.30" height="5.34" fill="#E31A1C"/>
<rect x="272.43" y="287.13" width="5.30" height="4.86" fill="#FDBF6F"/>
<rect x="272.43" y="284.90" width="5.30" height="2.23" fill="#6A3D9A"/>
<line x1="275.08" y1="384.20" x2="275.08" y2="385.40" stroke="#6b6b6b" stroke-width="0.6"/>
<rect x="280.08" y="305.29" width="5.30" height="76.71" fill="#B2DF8A"/>
<rect x="280.08" y="294.12" width="5.30" height="11.17" fill="#2E9F2C"/>
<rect x="280.08" y="289.27" width="5.30" height="4.86" fill="#FA9A99"/>
<rect x="280.08" y="286.65" width="5.30" height="2.62" fill="#E31A1C"/>
<rect x="280.08" y="284.90" width="5.30" height="1.75" fill="#6A3D9A"/>
<line x1="282.73" y1="384.20" x2="282.73" y2="385.40" stroke="#6b6b6b" stroke-width="0.6"/>
<rect x="287.73" y="328.50" width="5.30" height="53.50" fill="#B2DF8A"/>
<rect x="287.73" y="319.47" width="5.30" height="9.03" fill="#2E9F2C"/>
<rect x="287.73" y="299.08" width="5.30" height="20.39" fill="#FA9A99"/>
<rect x="287.73" y="291.31" width="5.30" height="7.77" fill="#E31A1C"/>
<rect x="287.73" y="289.85" width="5.30" height="1.46" fill="#FF7F00"/>
<rect x="287.73" y="284.90" width="5.30" height="4.95" fill="#6A3D9A"/>
<line x1="290.38" y1="384.20" x2="290.38" y2="385.40" stroke="#6b6b6b" stroke-width="0.6"/>
<rect x="295.38" y="303.74" width="5.30" height="78.26" fill="#B2DF8A"/>
<rect x="295.38" y="298.40" width="5.30" height="5.34" fill="#2E9F2C"/>
<rect x="295.38" y="295.19" width="5.30" height="3.20" fill="#FA9A99"/>
<rect x="295.38" y="287.72" width="5.30" height="7.48" fill="#E31A1C"/>
<rect x="295.38" y="284.90" width="5.30" height="2.82" fill="#6A3D9A"/>
<line x1="298.03" y1="384.20" x2="298.03" y2="385.40" stroke="#6b6b6b" stroke-width="0.6"/>
<rect x="303.03" y="305.87" width="5.30" height="76.13" fill="#B2DF8A"/>
<rect x="303.03" y="300.53" width="5.30" height="5.34" fill="#2E9F2C"/>
<rect x="303.03" y="291.89" width="5.30" height="8.64" fill="#FA9A99"/>
<rect x="303.03" y="288.69" width="5.30" height="3.20" fill="#E31A1C"/>
<rect x="303.03" y="284.90" width="5.30" height="3.79" fill="#6A3D9A"/>
<line x1="305.68" y1="384.20" x2="305.68" y2="385.40" stroke="#6b6b6b" stroke-width="0.6"/>
<rect x="310.68" y="379.38" width="5.30" height="2.62" fill="#B2DF8A"/>
<rect x="310.68" y="355.30" width="5.30" height="24.08" fill="#2E9F2C"/>
<rect x="310.68" y="329.47" width="5.30" height="25.83" fill="#FA9A99"/>
<rect x="310.68" y="306.26" width="5.30" height="23.21" fill="#E31A1C"/>
<rect x="310.68" y="284.90" width="5.30" height="21.36" fill="#6A3D9A"/>
<line x1="313.33" y1="384.20" x2="313.33" y2="385.40" stroke="#6b6b6b" stroke-width="0.6"/>
<rect x="318.34" y="372.58" width="5.30" height="9.42" fill="#B2DF8A"/>
<rect x="318.34" y="354.91" width="5.30" height="17.67" fill="#2E9F2C"/>
<rect x="318.34" y="339.18" width="5.30" height="15.73" fill="#FA9A99"/>
<rect x="318.34" y="309.08" width="5.30" height="30.10" fill="#E31A1C"/>
<rect x="318.34" y="284.90" width="5.30" height="24.18" fill="#6A3D9A"/>
<line x1="320.99" y1="384.20" x2="320.99" y2="385.40" stroke="#6b6b6b" stroke-width="0.6"/>
<rect x="325.99" y="368.89" width="5.30" height="13.11" fill="#B2DF8A"/>
<rect x="325.99" y="340.34" width="5.30" height="28.55" fill="#2E9F2C"/>
<rect x="325.99" y="304.90" width="5.30" height="35.44" fill="#FA9A99"/>
<rect x="325.99" y="290.92" width="5.30" height="13.98" fill="#E31A1C"/>
<rect x="325.99" y="289.85" width="5.30" height="1.07" fill="#FF7F00"/>
<rect x="325.99" y="284.90" width="5.30" height="4.95" fill="#6A3D9A"/>
<line x1="328.64" y1="384.20" x2="328.64" y2="385.40" stroke="#6b6b6b" stroke-width="0.6"/>
<rect x="333.64" y="379.67" width="5.30" height="2.33" fill="#B2DF8A"/>
<rect x="333.64" y="353.26" width="5.30" height="26.41" fill="#2E9F2C"/>
<rect x="333.64" y="331.31" width="5.30" height="21.94" fill="#FA9A99"/>
<rect x="333.64" y="293.44" width="5.30" height="37.87" fill="#E31A1C"/>
<rect x="333.64" y="284.90" width="5.30" height="8.54" fill="#6A3D9A"/>
<line x1="336.29" y1="384.20" x2="336.29" y2="385.40" stroke="#6b6b6b" stroke-width="0.6"/>
<rect x="341.29" y="356.46" width="5.30" height="25.54" fill="#B2DF8A"/>
<rect x="341.29" y="301.60" width="5.30" height="54.86" fill="#2E9F2C"/>
<rect x="341.29" y="295.19" width="5.30" height="6.41" fill="#FA9A99"/>
<rect x="341.29" y="291.99" width="5.30" height="3.20" fill="#E31A1C"/>
<rect x="341.29" y="287.13" width="5.30" height="4.86" fill="#FF7F00"/>
<rect x="341.29" y="284.90" width="5.30" height="2.23" fill="#6A3D9A"/>
<line x1="343.94" y1="384.20" x2="343.94" y2="385.40" stroke="#6b6b6b" stroke-width="0.6"/>
<rect x="348.94" y="353.16" width="5.30" height="28.84" fill="#B2DF8A"/>
<rect x="348.94" y="346.27" width="5.30" height="6.89" fill="#2E9F2C"/>
<rect x="348.94" y="297.72" width="5.30" height="48.55" fill="#FA9A99"/>
<rect x="348.94" y="291.89" width="5.30" height="5.83" fill="#E31A1C"/>
<rect x="348.94" y="284.90" width="5.30" height="6.99" fill="#6A3D9A"/>
<line x1="351.59" y1="384.20" x2="351.59" y2="385.40" stroke="#6b6b6b" stroke-width="0.6"/>
<rect x="356.59" y="375.30" width="5.30" height="6.70" fill="#B2DF8A"/>
<rect x="356.59" y="359.57" width="5.30" height="15.73" fill="#2E9F2C"/>
<rect x="356.59" y="338.11" width="5.30" height="21.46" fill="#FA9A99"/>
<rect x="356.59" y="310.63" width="5.30" height="27.48" fill="#E31A1C"/>
<rect x="356.59" y="284.90" width="5.30" height="25.73" fill="#6A3D9A"/>
<line x1="359.24" y1="384.20" x2="359.24" y2="385.40" stroke="#6b6b6b" stroke-width="0.6"/>
<rect x="364.24" y="364.62" width="5.30" height="17.38" fill="#B2DF8A"/>
<rect x="364.24" y="313.06" width="5.30" height="51.56" fill="#2E9F2C"/>
<rect x="364.24" y="306.36" width="5.30" height="6.70" fill="#FA9A99"/>
<rect x="364.24" y="302.67" width="5.30" height="3.69" fill="#E31A1C"/>
<rect x="364.24" y="295.58" width="5.30" height="7.09" fill="#FF7F00"/>
<rect x="364.24" y="289.17" width="5.30" height="6.41" fill="#CAB2D6"/>
<rect x="364.24" y="287.04" width="5.30" height="2.14" fill="#FFFF99"/>
<rect x="364.24" y="284.90" width="5.30" height="2.14" fill="#B15928"/>
<line x1="366.89" y1="384.20" x2="366.89" y2="385.40" stroke="#6b6b6b" stroke-width="0.6"/>
<rect x="371.89" y="372.10" width="5.30" height="9.90" fill="#B2DF8A"/>
<rect x="371.89" y="319.86" width="5.30" height="52.24" fill="#2E9F2C"/>
<rect x="371.89" y="315.10" width="5.30" height="4.76" fill="#FA9A99"/>
<rect x="371.89" y="313.35" width="5.30" height="1.75" fill="#E31A1C"/>
<rect x="371.89" y="305.19" width="5.30" height="8.16" fill="#FF7F00"/>
<rect x="371.89" y="289.08" width="5.30" height="16.12" fill="#CAB2D6"/>
<rect x="371.89" y="286.94" width="5.30" height="2.14" fill="#FFFF99"/>
<rect x="371.89" y="284.90" width="5.30" height="2.04" fill="#B15928"/>
<line x1="374.54" y1="384.20" x2="374.54" y2="385.40" stroke="#6b6b6b" stroke-width="0.6"/>
<rect x="379.54" y="369.38" width="5.30" height="12.62" fill="#B2DF8A"/>
<rect x="379.54" y="306.26" width="5.30" height="63.12" fill="#2E9F2C"/>
<rect x="379.54" y="305.29" width="5.30" height="0.97" fill="#FA9A99"/>
<rect x="379.54" y="304.81" width="5.30" height="0.49" fill="#E31A1C"/>
<rect x="379.54" y="295.58" width="5.30" height="9.22" fill="#FF7F00"/>
<rect x="379.54" y="289.75" width="5.30" height="5.83" fill="#CAB2D6"/>
<rect x="379.54" y="287.81" width="5.30" height="1.94" fill="#FFFF99"/>
<rect x="379.54" y="284.90" width="5.30" height="2.91" fill="#B15928"/>
<line x1="382.19" y1="384.20" x2="382.19" y2="385.40" stroke="#6b6b6b" stroke-width="0.6"/>
<rect x="387.19" y="365.01" width="5.30" height="16.99" fill="#B2DF8A"/>
<rect x="387.19" y="314.90" width="5.30" height="50.10" fill="#2E9F2C"/>
<rect x="387.19" y="309.08" width="5.30" height="5.83" fill="#FA9A99"/>
<rect x="387.19" y="307.62" width="5.30" height="1.46" fill="#E31A1C"/>
<rect x="387.19" y="299.46" width="5.30" height="8.16" fill="#FF7F00"/>
<rect x="387.19" y="289.75" width="5.30" height="9.71" fill="#CAB2D6"/>
<rect x="387.19" y="287.62" width="5.30" height="2.14" fill="#FFFF99"/>
<rect x="387.19" y="284.90" width="5.30" height="2.72" fill="#B15928"/>
<line x1="389.84" y1="384.20" x2="389.84" y2="385.40" stroke="#6b6b6b" stroke-width="0.6"/>
<rect x="394.85" y="367.74" width="5.30" height="14.26" fill="#B2DF8A"/>
<rect x="394.85" y="321.04" width="5.30" height="46.69" fill="#2E9F2C"/>
<rect x="394.85" y="315.77" width="5.30" height="5.28" fill="#FA9A99"/>
<rect x="394.85" y="314.40" width="5.30" height="1.37" fill="#E31A1C"/>
<rect x="394.85" y="304.93" width="5.30" height="9.48" fill="#FF7F00"/>
<rect x="394.85" y="292.91" width="5.30" height="12.02" fill="#CAB2D6"/>
<rect x="394.85" y="291.93" width="5.30" height="0.98" fill="#FFFF99"/>
<rect x="394.85" y="284.90" width="5.30" height="7.03" fill="#B15928"/>
<line x1="397.50" y1="384.20" x2="397.50" y2="385.40" stroke="#6b6b6b" stroke-width="0.6"/>
<rect x="402.50" y="368.21" width="5.30" height="13.79" fill="#B2DF8A"/>
<rect x="402.50" y="311.21" width="5.30" height="57.00" fill="#2E9F2C"/>
<rect x="402.50" y="309.08" width="5.30" height="2.14" fill="#FA9A99"/>
<rect x="402.50" y="308.01" width="5.30" height="1.07" fill="#E31A1C"/>
<rect x="402.50" y="297.33" width="5.30" height="10.68" fill="#FF7F00"/>
<rect x="402.50" y="287.62" width="5.30" height="9.71" fill="#CAB2D6"/>
<rect x="402.50" y="286.16" width="5.30" height="1.46" fill="#FFFF99"/>
<rect x="402.50" y="284.90" width="5.30" height="1.26" fill="#B15928"/>
<line x1="405.15" y1="384.20" x2="405.15" y2="385.40" stroke="#6b6b6b" stroke-width="0.6"/>
<rect x="410.15" y="360.06" width="5.30" height="21.94" fill="#B2DF8A"/>
<rect x="410.15" y="315.58" width="5.30" height="44.47" fill="#2E9F2C"/>
<rect x="410.15" y="313.45" width="5.30" height="2.14" fill="#FA9A99"/>
<rect x="410.15" y="303.74" width="5.30" height="9.71" fill="#FF7F00"/>
<rect x="410.15" y="289.76" width="5.30" height="13.98" fill="#CAB2D6"/>
<rect x="410.15" y="287.62" width="5.30" height="2.14" fill="#FFFF99"/>
<rect x="410.15" y="284.90" width="5.30" height="2.72" fill="#B15928"/>
<line x1="412.80" y1="384.20" x2="412.80" y2="385.40" stroke="#6b6b6b" stroke-width="0.6"/>
<rect x="417.80" y="380.72" width="5.30" height="1.28" fill="#B2DF8A"/>
<rect x="417.80" y="343.16" width="5.30" height="37.56" fill="#2E9F2C"/>
<rect x="417.80" y="335.12" width="5.30" height="8.04" fill="#FA9A99"/>
<rect x="417.80" y="331.19" width="5.30" height="3.92" fill="#E31A1C"/>
<rect x="417.80" y="284.90" width="5.30" height="46.29" fill="#B15928"/>
<line x1="420.45" y1="384.20" x2="420.45" y2="385.40" stroke="#6b6b6b" stroke-width="0.6"/>
<rect x="425.45" y="380.06" width="5.30" height="1.94" fill="#B2DF8A"/>
<rect x="425.45" y="319.18" width="5.30" height="60.88" fill="#2E9F2C"/>
<rect x="425.45" y="309.08" width="5.30" height="10.10" fill="#FA9A99"/>
<rect x="425.45" y="301.60" width="5.30" height="7.48" fill="#E31A1C"/>
<rect x="425.45" y="294.12" width="5.30" height="7.48" fill="#FF7F00"/>
<rect x="425.45" y="288.78" width="5.30" height="5.34" fill="#CAB2D6"/>
<rect x="425.45" y="286.65" width="5.30" height="2.14" fill="#FFFF99"/>
<rect x="425.45" y="284.90" width="5.30" height="1.75" fill="#B15928"/>
<line x1="428.10" y1="384.20" x2="428.10" y2="385.40" stroke="#6b6b6b" stroke-width="0.6"/>
<rect x="433.10" y="354.91" width="5.30" height="27.09" fill="#B2DF8A"/>
<rect x="433.10" y="312.77" width="5.30" height="42.14" fill="#2E9F2C"/>
<rect x="433.10" y="304.13" width="5.30" height="8.64" fill="#FA9A99"/>
<rect x="433.10" y="301.50" width="5.30" height="2.62" fill="#E31A1C"/>
<rect x="433.10" y="297.23" width="5.30" height="4.27" fill="#FF7F00"/>
<rect x="433.10" y="286.55" width="5.30" height="10.68" fill="#FFFF99"/>
<rect x="433.10" y="284.90" width="5.30" height="1.65" fill="#B15928"/>
<line x1="435.75" y1="384.20" x2="435.75" y2="385.40" stroke="#6b6b6b" stroke-width="0.6"/>
<rect x="440.75" y="355.78" width="5.30" height="26.22" fill="#B2DF8A"/>
<rect x="440.75" y="315.58" width="5.30" height="40.20" fill="#2E9F2C"/>
<rect x="440.75" y="306.36" width="5.30" height="9.22" fill="#FA9A99"/>
<rect x="440.75" y="303.74" width="5.30" height="2.62" fill="#E31A1C"/>
<rect x="440.75" y="291.89" width="5.30" height="11.85" fill="#FF7F00"/>
<rect x="440.75" y="286.55" width="5.30" height="5.34" fill="#FFFF99"/>
<rect x="440.75" y="284.90" width="5.30" height="1.65" fill="#B15928"/>
<line x1="443.40" y1="384.20" x2="443.40" y2="385.40" stroke="#6b6b6b" stroke-width="0.6"/>
<rect x="448.40" y="359.18" width="5.30" height="22.82" fill="#B2DF8A"/>
<rect x="448.40" y="309.08" width="5.30" height="50.10" fill="#2E9F2C"/>
<rect x="448.40" y="303.74" width="5.30" height="5.34" fill="#FA9A99"/>
<rect x="448.40" y="294.71" width="5.30" height="9.03" fill="#FF7F00"/>
<rect x="448.40" y="291.31" width="5.30" height="3.40" fill="#CAB2D6"/>
<rect x="448.40" y="286.55" width="5.30" height="4.76" fill="#FFFF99"/>
<rect x="448.40" y="284.90" width="5.30" height="1.65" fill="#B15928"/>
<line x1="451.05" y1="384.20" x2="451.05" y2="385.40" stroke="#6b6b6b" stroke-width="0.6"/>
<rect x="456.05" y="361.80" width="5.30" height="20.20" fill="#B2DF8A"/>
<rect x="456.05" y="318.79" width="5.30" height="43.02" fill="#2E9F2C"/>
<rect x="456.05" y="309.76" width="5.30" height="9.03" fill="#FA9A99"/>
<rect x="456.05" y="305.87" width="5.30" height="3.88" fill="#E31A1C"/>
<rect x="456.05" y="292.57" width="5.30" height="13.30" fill="#FF7F00"/>
<rect x="456.05" y="289.17" width="5.30" height="3.40" fill="#CAB2D6"/>
<rect x="456.05" y="286.26" width="5.30" height="2.91" fill="#FFFF99"/>
<rect x="456.05" y="284.90" width="5.30" height="1.36" fill="#B15928"/>
<line x1="458.70" y1="384.20" x2="458.70" y2="385.40" stroke="#6b6b6b" stroke-width="0.6"/>
<rect x="463.70" y="351.70" width="5.30" height="30.30" fill="#B2DF8A"/>
<rect x="463.70" y="307.04" width="5.30" height="44.67" fill="#2E9F2C"/>
<rect x="463.70" y="296.36" width="5.30" height="10.68" fill="#FA9A99"/>
<rect x="463.70" y="292.09" width="5.30" height="4.27" fill="#E31A1C"/>
<rect x="463.70" y="289.17" width="5.30" height="2.91" fill="#FF7F00"/>
<rect x="463.70" y="286.26" width="5.30" height="2.91" fill="#FFFF99"/>
<rect x="463.70" y="284.90" width="5.30" height="1.36" fill="#B15928"/>
<line x1="466.35" y1="384.20" x2="466.35" y2="385.40" stroke="#6b6b6b" stroke-width="0.6"/>
<rect x="471.36" y="347.82" width="5.30" height="34.18" fill="#B2DF8A"/>
<rect x="471.36" y="310.24" width="5.30" height="37.58" fill="#2E9F2C"/>
<rect x="471.36" y="302.77" width="5.30" height="7.48" fill="#FA9A99"/>
<rect x="471.36" y="297.91" width="5.30" height="4.86" fill="#E31A1C"/>
<rect x="471.36" y="291.50" width="5.30" height="6.41" fill="#FF7F00"/>
<rect x="471.36" y="287.91" width="5.30" height="3.59" fill="#CAB2D6"/>
<rect x="471.36" y="286.45" width="5.30" height="1.46" fill="#FFFF99"/>
<rect x="471.36" y="284.90" width="5.30" height="1.55" fill="#B15928"/>
<line x1="474.01" y1="384.20" x2="474.01" y2="385.40" stroke="#6b6b6b" stroke-width="0.6"/>
<rect x="479.01" y="299.85" width="5.30" height="82.15" fill="#B2DF8A"/>
<rect x="479.01" y="289.75" width="5.30" height="10.10" fill="#2E9F2C"/>
<rect x="479.01" y="287.23" width="5.30" height="2.52" fill="#E31A1C"/>
<rect x="479.01" y="286.16" width="5.30" height="1.07" fill="#FFFF99"/>
<rect x="479.01" y="284.90" width="5.30" height="1.26" fill="#B15928"/>
<line x1="481.66" y1="384.20" x2="481.66" y2="385.40" stroke="#6b6b6b" stroke-width="0.6"/>
<rect x="486.66" y="334.32" width="5.30" height="47.68" fill="#B2DF8A"/>
<rect x="486.66" y="302.77" width="5.30" height="31.56" fill="#2E9F2C"/>
<rect x="486.66" y="299.56" width="5.30" height="3.20" fill="#FA9A99"/>
<rect x="486.66" y="296.36" width="5.30" height="3.20" fill="#E31A1C"/>
<rect x="486.66" y="290.53" width="5.30" height="5.83" fill="#FF7F00"/>
<rect x="486.66" y="288.40" width="5.30" height="2.14" fill="#FFFF99"/>
<rect x="486.66" y="284.90" width="5.30" height="3.50" fill="#CAB2D6"/>
<line x1="489.31" y1="384.20" x2="489.31" y2="385.40" stroke="#6b6b6b" stroke-width="0.6"/>
<rect x="494.31" y="372.58" width="5.30" height="9.42" fill="#B2DF8A"/>
<rect x="494.31" y="312.86" width="5.30" height="59.72" fill="#2E9F2C"/>
<rect x="494.31" y="307.72" width="5.30" height="5.15" fill="#FA9A99"/>
<rect x="494.31" y="305.58" width="5.30" height="2.14" fill="#E31A1C"/>
<rect x="494.31" y="297.81" width="5.30" height="7.77" fill="#FF7F00"/>
<rect x="494.31" y="288.78" width="5.30" height="9.03" fill="#CAB2D6"/>
<rect x="494.31" y="286.65" width="5.30" height="2.14" fill="#FFFF99"/>
<rect x="494.31" y="284.90" width="5.30" height="1.75" fill="#B15928"/>
<line x1="496.96" y1="384.20" x2="496.96" y2="385.40" stroke="#6b6b6b" stroke-width="0.6"/>
<rect x="501.96" y="372.97" width="5.30" height="9.03" fill="#B2DF8A"/>
<rect x="501.96" y="321.99" width="5.30" height="50.98" fill="#2E9F2C"/>
<rect x="501.96" y="312.77" width="5.30" height="9.22" fill="#FA9A99"/>
<rect x="501.96" y="310.83" width="5.30" height="1.94" fill="#E31A1C"/>
<rect x="501.96" y="302.67" width="5.30" height="8.16" fill="#FF7F00"/>
<rect x="501.96" y="291.99" width="5.30" height="10.68" fill="#CAB2D6"/>
<rect x="501.96" y="289.17" width="5.30" height="2.82" fill="#FFFF99"/>
<rect x="501.96" y="284.90" width="5.30" height="4.27" fill="#B15928"/>
<line x1="504.61" y1="384.20" x2="504.61" y2="385.40" stroke="#6b6b6b" stroke-width="0.6"/>
<rect x="509.61" y="362.48" width="5.30" height="19.52" fill="#B2DF8A"/>
<rect x="509.61" y="310.24" width="5.30" height="52.24" fill="#2E9F2C"/>
<rect x="509.61" y="306.36" width="5.30" height="3.88" fill="#FA9A99"/>
<rect x="509.61" y="304.90" width="5.30" height="1.46" fill="#E31A1C"/>
<rect x="509.61" y="296.94" width="5.30" height="7.96" fill="#FF7F00"/>
<rect x="509.61" y="287.72" width="5.30" height="9.22" fill="#CAB2D6"/>
<rect x="509.61" y="284.90" width="5.30" height="2.82" fill="#FFFF99"/>
<line x1="512.26" y1="384.20" x2="512.26" y2="385.40" stroke="#6b6b6b" stroke-width="0.6"/>
<rect x="517.26" y="363.94" width="5.30" height="18.06" fill="#B2DF8A"/>
<rect x="517.26" y="309.76" width="5.30" height="54.18" fill="#2E9F2C"/>
<rect x="517.26" y="304.90" width="5.30" height="4.86" fill="#FA9A99"/>
<rect x="517.26" y="303.45" width="5.30" height="1.46" fill="#E31A1C"/>
<rect x="517.26" y="296.36" width="5.30" height="7.09" fill="#FF7F00"/>
<rect x="517.26" y="289.95" width="5.30" height="6.41" fill="#CAB2D6"/>
<rect x="517.26" y="286.26" width="5.30" height="3.69" fill="#FFFF99"/>
<rect x="517.26" y="284.90" width="5.30" height="1.36" fill="#B15928"/>
<line x1="519.91" y1="384.20" x2="519.91" y2="385.40" stroke="#6b6b6b" stroke-width="0.6"/>
<rect x="524.91" y="361.32" width="5.30" height="20.68" fill="#B2DF8A"/>
<rect x="524.91" y="315.49" width="5.30" height="45.83" fill="#2E9F2C"/>
<rect x="524.91" y="303.25" width="5.30" height="12.23" fill="#FA9A99"/>
<rect x="524.91" y="298.98" width="5.30" height="4.27" fill="#E31A1C"/>
<rect x="524.91" y="293.35" width="5.30" height="5.63" fill="#FF7F00"/>
<rect x="524.91" y="288.20" width="5.30" height="5.15" fill="#CAB2D6"/>
<rect x="524.91" y="286.26" width="5.30" height="1.94" fill="#FFFF99"/>
<rect x="524.91" y="284.90" width="5.30" height="1.36" fill="#B15928"/>
<line x1="527.56" y1="384.20" x2="527.56" y2="385.40" stroke="#6b6b6b" stroke-width="0.6"/>
<rect x="532.56" y="356.85" width="5.30" height="25.15" fill="#B2DF8A"/>
<rect x="532.56" y="303.35" width="5.30" height="53.50" fill="#2E9F2C"/>
<rect x="532.56" y="301.60" width="5.30" height="1.75" fill="#FA9A99"/>
<rect x="532.56" y="299.85" width="5.30" height="1.75" fill="#E31A1C"/>
<rect x="532.56" y="291.21" width="5.30" height="8.64" fill="#FF7F00"/>
<rect x="532.56" y="289.08" width="5.30" height="2.14" fill="#CAB2D6"/>
<rect x="532.56" y="286.16" width="5.30" height="2.91" fill="#FFFF99"/>
<rect x="532.56" y="284.90" width="5.30" height="1.26" fill="#B15928"/>
<line x1="535.21" y1="384.20" x2="535.21" y2="385.40" stroke="#6b6b6b" stroke-width="0.6"/>
<rect x="540.22" y="375.30" width="5.30" height="6.70" fill="#B2DF8A"/>
<rect x="540.22" y="332.09" width="5.30" height="43.21" fill="#2E9F2C"/>
<rect x="540.22" y="314.90" width="5.30" height="17.19" fill="#FA9A99"/>
<rect x="540.22" y="298.40" width="5.30" height="16.51" fill="#E31A1C"/>
<rect x="540.22" y="297.33" width="5.30" height="1.07" fill="#FF7F00"/>
<rect x="540.22" y="296.26" width="5.30" height="1.07" fill="#CAB2D6"/>
<rect x="540.22" y="290.43" width="5.30" height="5.83" fill="#FFFF99"/>
<rect x="540.22" y="284.90" width="5.30" height="5.53" fill="#B15928"/>
<line x1="542.87" y1="384.20" x2="542.87" y2="385.40" stroke="#6b6b6b" stroke-width="0.6"/>
<rect x="547.87" y="353.16" width="5.30" height="28.84" fill="#B2DF8A"/>
<rect x="547.87" y="312.96" width="5.30" height="40.20" fill="#2E9F2C"/>
<rect x="547.87" y="298.98" width="5.30" height="13.98" fill="#FA9A99"/>
<rect x="547.87" y="294.71" width="5.30" height="4.27" fill="#E31A1C"/>
<rect x="547.87" y="291.89" width="5.30" height="2.82" fill="#FF7F00"/>
<rect x="547.87" y="286.55" width="5.30" height="5.34" fill="#FFFF99"/>
<rect x="547.87" y="284.90" width="5.30" height="1.65" fill="#B15928"/>
<line x1="550.52" y1="384.20" x2="550.52" y2="385.40" stroke="#6b6b6b" stroke-width="0.6"/>
<rect x="555.52" y="365.69" width="5.30" height="16.31" fill="#B2DF8A"/>
<rect x="555.52" y="314.13" width="5.30" height="51.56" fill="#2E9F2C"/>
<rect x="555.52" y="300.63" width="5.30" height="13.50" fill="#FA9A99"/>
<rect x="555.52" y="297.43" width="5.30" height="3.20" fill="#E31A1C"/>
<rect x="555.52" y="294.80" width="5.30" height="2.62" fill="#FF7F00"/>
<rect x="555.52" y="288.78" width="5.30" height="6.02" fill="#CAB2D6"/>
<rect x="555.52" y="286.16" width="5.30" height="2.62" fill="#FFFF99"/>
<rect x="555.52" y="284.90" width="5.30" height="1.26" fill="#B15928"/>
<line x1="558.17" y1="384.20" x2="558.17" y2="385.40" stroke="#6b6b6b" stroke-width="0.6"/>
<rect x="563.17" y="367.14" width="5.30" height="14.86" fill="#B2DF8A"/>
<rect x="563.17" y="321.99" width="5.30" height="45.15" fill="#2E9F2C"/>
<rect x="563.17" y="304.81" width="5.30" height="17.19" fill="#FA9A99"/>
<rect x="563.17" y="297.33" width="5.30" height="7.48" fill="#E31A1C"/>
<rect x="563.17" y="294.12" width="5.30" height="3.20" fill="#FF7F00"/>
<rect x="563.17" y="291.99" width="5.30" height="2.14" fill="#CAB2D6"/>
<rect x="563.17" y="284.90" width="5.30" height="7.09" fill="#FFFF99"/>
<line x1="565.82" y1="384.20" x2="565.82" y2="385.40" stroke="#6b6b6b" stroke-width="0.6"/>
<rect x="570.82" y="360.06" width="5.30" height="21.94" fill="#B2DF8A"/>
<rect x="570.82" y="311.89" width="5.30" height="48.16" fill="#2E9F2C"/>
<rect x="570.82" y="298.98" width="5.30" height="12.91" fill="#FA9A99"/>
<rect x="570.82" y="294.12" width="5.30" height="4.86" fill="#E31A1C"/>
<rect x="570.82" y="291.99" width="5.30" height="2.14" fill="#FF7F00"/>
<rect x="570.82" y="288.78" width="5.30" height="3.20" fill="#FFFF99"/>
<rect x="570.82" y="284.90" width="5.30" height="3.88" fill="#B15928"/>
<line x1="573.47" y1="384.20" x2="573.47" y2="385.40" stroke="#6b6b6b" stroke-width="0.6"/>
<rect x="40.30" y="282.30" width="539.30" height="101.90" fill="none" stroke="#857c78" stroke-width="1.25"/>
<rect x="40.80" y="387.20" width="53.20" height="2.80" fill="#1ABFC4"/>
<rect x="94.60" y="387.20" width="53.20" height="2.80" fill="#F47B6E"/>
<rect x="148.40" y="387.20" width="53.20" height="2.80" fill="#EE1620"/>
<rect x="202.20" y="387.20" width="53.20" height="2.80" fill="#2F4F9B"/>
<rect x="256.00" y="387.20" width="53.20" height="2.80" fill="#F7B80E"/>
<rect x="309.80" y="387.20" width="53.20" height="2.80" fill="#4E8A2C"/>
<rect x="363.60" y="387.20" width="53.20" height="2.80" fill="#8A9DBE"/>
<rect x="417.40" y="387.20" width="53.20" height="2.80" fill="#111111"/>
<rect x="471.20" y="387.20" width="53.20" height="2.80" fill="#A07EE8"/>
<rect x="525.00" y="387.20" width="53.20" height="2.80" fill="#EE6F9C"/>
<rect x="586.20" y="284.10" width="6.60" height="8.40" fill="#B2DF8A"/>
<rect x="586.20" y="294.20" width="6.60" height="8.40" fill="#FA9A99"/>
<rect x="586.20" y="304.30" width="6.60" height="8.40" fill="#E31A1C"/>
<rect x="586.20" y="314.40" width="6.60" height="8.40" fill="#FDBF6F"/>
<rect x="586.20" y="324.50" width="6.60" height="8.40" fill="#FF7F00"/>
<rect x="586.20" y="334.60" width="6.60" height="8.40" fill="#CAB2D6"/>
<rect x="586.20" y="344.70" width="6.60" height="8.40" fill="#6A3D9A"/>
<rect x="586.20" y="354.80" width="6.60" height="8.40" fill="#FFFF99"/>
<rect x="586.20" y="364.90" width="6.60" height="8.40" fill="#B15928"/>
<rect x="586.20" y="375.00" width="6.60" height="8.40" fill="#2E9F2C"/>
<rect x="42.30" y="434.50" width="41.90" height="67.90" fill="none" stroke="#333" stroke-width="1.0"/>
<line x1="40.50" y1="434.60" x2="42.30" y2="434.60" stroke="#333" stroke-width="0.7"/>
<line x1="40.50" y1="468.40" x2="42.30" y2="468.40" stroke="#333" stroke-width="0.7"/>
<line x1="40.50" y1="502.30" x2="42.30" y2="502.30" stroke="#333" stroke-width="0.7"/>
<rect x="48.60" y="457.98" width="13.00" height="44.41" fill="#BFC0F8" stroke="#1a1a1a" stroke-width="0.7"/>
<rect x="48.60" y="448.80" width="13.00" height="9.18" fill="#0000F0" stroke="#1a1a1a" stroke-width="0.7"/>
<rect x="64.60" y="481.34" width="12.90" height="21.06" fill="#BFC0F8" stroke="#1a1a1a" stroke-width="0.7"/>
<rect x="64.60" y="462.78" width="12.90" height="18.56" fill="#0000F0" stroke="#1a1a1a" stroke-width="0.7"/>
<rect x="90.80" y="434.70" width="7.40" height="4.30" fill="#BFC0F8" stroke="#1a1a1a" stroke-width="0.6"/>
<rect x="90.80" y="443.80" width="7.40" height="4.30" fill="#0000F0" stroke="#1a1a1a" stroke-width="0.6"/>
<rect x="168.90" y="435.30" width="41.40" height="67.50" fill="none" stroke="#333" stroke-width="1.0"/>
<line x1="167.10" y1="435.60" x2="168.90" y2="435.60" stroke="#333" stroke-width="0.7"/>
<line x1="167.10" y1="469.40" x2="168.90" y2="469.40" stroke="#333" stroke-width="0.7"/>
<line x1="167.10" y1="502.30" x2="168.90" y2="502.30" stroke="#333" stroke-width="0.7"/>
<rect x="175.20" y="459.33" width="12.80" height="43.06" fill="#BFC0F8" stroke="#1a1a1a" stroke-width="0.7"/>
<rect x="175.20" y="456.50" width="12.80" height="2.84" fill="#0000F0" stroke="#1a1a1a" stroke-width="0.7"/>
<rect x="175.20" y="451.03" width="12.80" height="5.47" fill="#F77E7E" stroke="#1a1a1a" stroke-width="0.7"/>
<rect x="175.20" y="446.92" width="12.80" height="4.12" fill="#21B46C" stroke="#1a1a1a" stroke-width="0.7"/>
<rect x="175.20" y="445.30" width="12.80" height="1.62" fill="#FF8A00" stroke="#1a1a1a" stroke-width="0.7"/>
<rect x="175.20" y="444.49" width="12.80" height="0.81" fill="#FF8A00" stroke="#1a1a1a" stroke-width="0.7"/>
<rect x="191.10" y="493.29" width="11.80" height="9.11" fill="#BFC0F8" stroke="#1a1a1a" stroke-width="0.7"/>
<rect x="191.10" y="477.29" width="11.80" height="16.00" fill="#F77E7E" stroke="#1a1a1a" stroke-width="0.7"/>
<rect x="191.10" y="464.26" width="11.80" height="13.03" fill="#21B46C" stroke="#1a1a1a" stroke-width="0.7"/>
<rect x="191.10" y="455.96" width="11.80" height="8.30" fill="#FF8A00" stroke="#1a1a1a" stroke-width="0.7"/>
<rect x="191.10" y="451.17" width="11.80" height="4.79" fill="#C042EE" stroke="#1a1a1a" stroke-width="0.7"/>
<rect x="216.70" y="436.30" width="7.40" height="4.30" fill="#BFC0F8" stroke="#1a1a1a" stroke-width="0.6"/>
<rect x="216.70" y="446.00" width="7.40" height="4.30" fill="#0000F0" stroke="#1a1a1a" stroke-width="0.6"/>
<rect x="216.70" y="455.50" width="7.40" height="4.30" fill="#F77E7E" stroke="#1a1a1a" stroke-width="0.6"/>
<text transform="translate(227.80 460.44) scale(1 1.06)" font-size="8" text-anchor="start" fill="#E8141C" stroke="#E8141C" stroke-width="0.2" font-style="italic">Clostridium sensu stricto 1</text>
<rect x="216.70" y="466.10" width="7.40" height="4.30" fill="#21B46C" stroke="#1a1a1a" stroke-width="0.6"/>
<rect x="216.70" y="477.10" width="7.40" height="4.30" fill="#FF8A00" stroke="#1a1a1a" stroke-width="0.6"/>
<rect x="216.70" y="487.90" width="7.40" height="4.30" fill="#C042EE" stroke="#1a1a1a" stroke-width="0.6"/>
<rect x="335.20" y="434.90" width="41.20" height="68.00" fill="none" stroke="#333" stroke-width="1.0"/>
<line x1="333.40" y1="435.60" x2="335.20" y2="435.60" stroke="#333" stroke-width="0.7"/>
<line x1="333.40" y1="458.20" x2="335.20" y2="458.20" stroke="#333" stroke-width="0.7"/>
<line x1="333.40" y1="480.60" x2="335.20" y2="480.60" stroke="#333" stroke-width="0.7"/>
<line x1="333.40" y1="502.40" x2="335.20" y2="502.40" stroke="#333" stroke-width="0.7"/>
<rect x="341.80" y="494.97" width="13.30" height="7.42" fill="#F77E7E" stroke="#1a1a1a" stroke-width="0.7"/>
<rect x="341.80" y="491.15" width="13.30" height="3.82" fill="#0000F0" stroke="#1a1a1a" stroke-width="0.7"/>
<rect x="341.80" y="467.97" width="13.30" height="23.18" fill="#FFFF99" stroke="#1a1a1a" stroke-width="0.7"/>
<rect x="341.80" y="455.82" width="13.30" height="12.15" fill="#21B46C" stroke="#1a1a1a" stroke-width="0.7"/>
<rect x="358.20" y="485.30" width="12.40" height="17.10" fill="#F77E7E" stroke="#1a1a1a" stroke-width="0.7"/>
<rect x="358.20" y="477.65" width="12.40" height="7.65" fill="#0000F0" stroke="#1a1a1a" stroke-width="0.7"/>
<rect x="358.20" y="470.45" width="12.40" height="7.20" fill="#FFFF99" stroke="#1a1a1a" stroke-width="0.7"/>
<rect x="358.20" y="467.30" width="12.40" height="3.15" fill="#21B46C" stroke="#1a1a1a" stroke-width="0.7"/>
<rect x="380.90" y="434.80" width="7.40" height="4.30" fill="#F77E7E" stroke="#1a1a1a" stroke-width="0.6"/>
<text transform="translate(393.00 439.74) scale(1 1.06)" font-size="8" text-anchor="start" fill="#E8141C" stroke="#E8141C" stroke-width="0.2" font-style="italic">Clostridium sensu stricto 1</text>
<rect x="380.90" y="445.10" width="7.40" height="4.30" fill="#0000F0" stroke="#1a1a1a" stroke-width="0.6"/>
<rect x="380.90" y="455.40" width="7.40" height="4.30" fill="#FFFF99" stroke="#1a1a1a" stroke-width="0.6"/>
<rect x="380.90" y="465.70" width="7.40" height="4.30" fill="#21B46C" stroke="#1a1a1a" stroke-width="0.6"/>
<rect x="516.20" y="435.20" width="40.80" height="67.80" fill="none" stroke="#333" stroke-width="1.0"/>
<line x1="514.40" y1="435.40" x2="516.20" y2="435.40" stroke="#333" stroke-width="0.7"/>
<line x1="514.40" y1="457.40" x2="516.20" y2="457.40" stroke="#333" stroke-width="0.7"/>
<line x1="514.40" y1="480.40" x2="516.20" y2="480.40" stroke="#333" stroke-width="0.7"/>
<line x1="514.40" y1="502.40" x2="516.20" y2="502.40" stroke="#333" stroke-width="0.7"/>
<rect x="523.00" y="492.05" width="13.60" height="10.35" fill="#F77E7E" stroke="#1a1a1a" stroke-width="0.7"/>
<rect x="523.00" y="478.55" width="13.60" height="13.50" fill="#0000F0" stroke="#1a1a1a" stroke-width="0.7"/>
<rect x="523.00" y="473.37" width="13.60" height="5.17" fill="#FFFF99" stroke="#1a1a1a" stroke-width="0.7"/>
<rect x="523.00" y="464.82" width="13.60" height="8.55" fill="#21B46C" stroke="#1a1a1a" stroke-width="0.7"/>
<rect x="539.00" y="476.97" width="12.70" height="25.43" fill="#F77E7E" stroke="#1a1a1a" stroke-width="0.7"/>
<rect x="539.00" y="468.87" width="12.70" height="8.10" fill="#0000F0" stroke="#1a1a1a" stroke-width="0.7"/>
<rect x="539.00" y="460.55" width="12.70" height="8.33" fill="#FFFF99" stroke="#1a1a1a" stroke-width="0.7"/>
<rect x="539.00" y="457.40" width="12.70" height="3.15" fill="#21B46C" stroke="#1a1a1a" stroke-width="0.7"/>
<rect x="565.60" y="434.90" width="7.40" height="4.30" fill="#F77E7E" stroke="#1a1a1a" stroke-width="0.6"/>
<text transform="translate(576.80 439.84) scale(1 1.06)" font-size="8" text-anchor="start" fill="#E8141C" stroke="#E8141C" stroke-width="0.2" font-style="italic">Clostridium sensu stricto 1</text>
<rect x="565.60" y="445.20" width="7.40" height="4.30" fill="#0000F0" stroke="#1a1a1a" stroke-width="0.6"/>
<rect x="565.60" y="455.50" width="7.40" height="4.30" fill="#FFFF99" stroke="#1a1a1a" stroke-width="0.6"/>
<rect x="565.60" y="465.80" width="7.40" height="4.30" fill="#21B46C" stroke="#1a1a1a" stroke-width="0.6"/>
<g style="filter:grayscale(1)">
<text transform="translate(0.60 12.29) scale(1 1.06)" font-size="13.2" text-anchor="start" fill="#1a1a1a" stroke="#1a1a1a" stroke-width="0.2" letter-spacing="0.6">(A)</text>
<text transform="translate(0.60 141.49) scale(1 1.06)" font-size="13.2" text-anchor="start" fill="#1a1a1a" stroke="#1a1a1a" stroke-width="0.2" letter-spacing="0.6">(B)</text>
<text transform="translate(0.60 280.99) scale(1 1.06)" font-size="13.2" text-anchor="start" fill="#1a1a1a" stroke="#1a1a1a" stroke-width="0.2" letter-spacing="0.6">(C)</text>
<text transform="translate(0.60 419.49) scale(1 1.06)" font-size="13.2" text-anchor="start" fill="#1a1a1a" stroke="#1a1a1a" stroke-width="0.2" letter-spacing="0.6">(D)</text>
<text transform="translate(78.00 13.24) scale(1 1.06)" font-size="8" text-anchor="middle" fill="#1a1a1a" stroke="#1a1a1a" stroke-width="0.2">Duodenum</text>
<text transform="translate(45.60 23.44) scale(1 1.06)" font-size="8" text-anchor="start" fill="#1a1a1a" stroke="#1a1a1a" stroke-width="0.2">r = 0.7668</text>
<text transform="translate(120.80 23.44) scale(1 1.06)" font-size="8" text-anchor="end" fill="#1a1a1a" stroke="#1a1a1a" stroke-width="0.2"><tspan font-style="italic">p</tspan> = 0.001</text>
<text transform="translate(38.70 30.53) scale(1 1.06)" font-size="7.7" text-anchor="end" fill="#1a1a1a" stroke="#1a1a1a" stroke-width="0.2">1.0</text>
<text transform="translate(38.70 46.73) scale(1 1.06)" font-size="7.7" text-anchor="end" fill="#1a1a1a" stroke="#1a1a1a" stroke-width="0.2">0.5</text>
<text transform="translate(38.70 61.83) scale(1 1.06)" font-size="7.7" text-anchor="end" fill="#1a1a1a" stroke="#1a1a1a" stroke-width="0.2">0.0</text>
<text transform="translate(38.70 77.73) scale(1 1.06)" font-size="7.7" text-anchor="end" fill="#1a1a1a" stroke="#1a1a1a" stroke-width="0.2">-0.5</text>
<text transform="translate(38.70 93.93) scale(1 1.06)" font-size="7.7" text-anchor="end" fill="#1a1a1a" stroke="#1a1a1a" stroke-width="0.2">-1.0</text>
<text transform="translate(39.30 107.43) scale(1 1.06)" font-size="7.7" text-anchor="middle" fill="#1a1a1a" stroke="#1a1a1a" stroke-width="0.2">-0.75</text>
<text transform="translate(58.20 107.43) scale(1 1.06)" font-size="7.7" text-anchor="middle" fill="#1a1a1a" stroke="#1a1a1a" stroke-width="0.2">-0.50</text>
<text transform="translate(77.10 107.43) scale(1 1.06)" font-size="7.7" text-anchor="middle" fill="#1a1a1a" stroke="#1a1a1a" stroke-width="0.2">-0.25</text>
<text transform="translate(89.10 107.43) scale(1 1.06)" font-size="7.7" text-anchor="middle" fill="#1a1a1a" stroke="#1a1a1a" stroke-width="0.2">0</text>
<text transform="translate(102.60 107.43) scale(1 1.06)" font-size="7.7" text-anchor="middle" fill="#1a1a1a" stroke="#1a1a1a" stroke-width="0.2">0.25</text>
<text transform="translate(117.90 107.43) scale(1 1.06)" font-size="7.7" text-anchor="middle" fill="#1a1a1a" stroke="#1a1a1a" stroke-width="0.2">0.5</text>
<text transform="translate(80.00 117.04) scale(1 1.06)" font-size="8" text-anchor="middle" fill="#1a1a1a" stroke="#1a1a1a" stroke-width="0.2">PC1(42.37%)</text>
<text transform="translate(20.34 58.80) rotate(-90) scale(1 1.06)" font-size="8" text-anchor="middle" fill="#1a1a1a" stroke="#1a1a1a" stroke-width="0.2">PC2(31.27%)</text>
<text transform="translate(202.60 13.14) scale(1 1.06)" font-size="8" text-anchor="middle" fill="#1a1a1a" stroke="#1a1a1a" stroke-width="0.2">Jejunum</text>
<text transform="translate(172.60 22.84) scale(1 1.06)" font-size="8" text-anchor="start" fill="#1a1a1a" stroke="#1a1a1a" stroke-width="0.2">r = 0.2653</text>
<text transform="translate(245.70 22.84) scale(1 1.06)" font-size="8" text-anchor="end" fill="#1a1a1a" stroke="#1a1a1a" stroke-width="0.2"><tspan font-style="italic">p</tspan> = 0.049</text>
<text transform="translate(163.60 29.13) scale(1 1.06)" font-size="7.7" text-anchor="end" fill="#1a1a1a" stroke="#1a1a1a" stroke-width="0.2">1.0</text>
<text transform="translate(163.60 47.43) scale(1 1.06)" font-size="7.7" text-anchor="end" fill="#1a1a1a" stroke="#1a1a1a" stroke-width="0.2">0.5</text>
<text transform="translate(163.60 65.83) scale(1 1.06)" font-size="7.7" text-anchor="end" fill="#1a1a1a" stroke="#1a1a1a" stroke-width="0.2">0.0</text>
<text transform="translate(163.60 83.93) scale(1 1.06)" font-size="7.7" text-anchor="end" fill="#1a1a1a" stroke="#1a1a1a" stroke-width="0.2">-0.5</text>
<text transform="translate(168.40 107.43) scale(1 1.06)" font-size="7.7" text-anchor="middle" fill="#1a1a1a" stroke="#1a1a1a" stroke-width="0.2">-1.0</text>
<text transform="translate(191.10 107.43) scale(1 1.06)" font-size="7.7" text-anchor="middle" fill="#1a1a1a" stroke="#1a1a1a" stroke-width="0.2">-0.5</text>
<text transform="translate(212.40 107.43) scale(1 1.06)" font-size="7.7" text-anchor="middle" fill="#1a1a1a" stroke="#1a1a1a" stroke-width="0.2">0.0</text>
<text transform="translate(235.10 107.43) scale(1 1.06)" font-size="7.7" text-anchor="middle" fill="#1a1a1a" stroke="#1a1a1a" stroke-width="0.2">0.5</text>
<text transform="translate(205.80 117.24) scale(1 1.06)" font-size="8" text-anchor="middle" fill="#1a1a1a" stroke="#1a1a1a" stroke-width="0.2">PC1(38.08%)</text>
<text transform="translate(148.04 59.90) rotate(-90) scale(1 1.06)" font-size="8" text-anchor="middle" fill="#1a1a1a" stroke="#1a1a1a" stroke-width="0.2">PC2(21.52%)</text>
<text transform="translate(325.90 11.74) scale(1 1.06)" font-size="8" text-anchor="middle" fill="#1a1a1a" stroke="#1a1a1a" stroke-width="0.2">Ileum</text>
<text transform="translate(295.50 22.84) scale(1 1.06)" font-size="8" text-anchor="start" fill="#1a1a1a" stroke="#1a1a1a" stroke-width="0.2">r = 0.3790</text>
<text transform="translate(368.90 22.84) scale(1 1.06)" font-size="8" text-anchor="end" fill="#1a1a1a" stroke="#1a1a1a" stroke-width="0.2"><tspan font-style="italic">p</tspan> = 0.019</text>
<text transform="translate(286.40 29.13) scale(1 1.06)" font-size="7.7" text-anchor="end" fill="#1a1a1a" stroke="#1a1a1a" stroke-width="0.2">1.0</text>
<text transform="translate(286.40 49.93) scale(1 1.06)" font-size="7.7" text-anchor="end" fill="#1a1a1a" stroke="#1a1a1a" stroke-width="0.2">0.5</text>
<text transform="translate(286.40 70.73) scale(1 1.06)" font-size="7.7" text-anchor="end" fill="#1a1a1a" stroke="#1a1a1a" stroke-width="0.2">0.0</text>
<text transform="translate(286.40 91.23) scale(1 1.06)" font-size="7.7" text-anchor="end" fill="#1a1a1a" stroke="#1a1a1a" stroke-width="0.2">-0.5</text>
<text transform="translate(294.60 107.43) scale(1 1.06)" font-size="7.7" text-anchor="middle" fill="#1a1a1a" stroke="#1a1a1a" stroke-width="0.2">-1.0</text>
<text transform="translate(315.60 107.43) scale(1 1.06)" font-size="7.7" text-anchor="middle" fill="#1a1a1a" stroke="#1a1a1a" stroke-width="0.2">-0.5</text>
<text transform="translate(338.10 107.43) scale(1 1.06)" font-size="7.7" text-anchor="middle" fill="#1a1a1a" stroke="#1a1a1a" stroke-width="0.2">0.0</text>
<text transform="translate(359.60 107.43) scale(1 1.06)" font-size="7.7" text-anchor="middle" fill="#1a1a1a" stroke="#1a1a1a" stroke-width="0.2">0.5</text>
<text transform="translate(328.60 116.04) scale(1 1.06)" font-size="8" text-anchor="middle" fill="#1a1a1a" stroke="#1a1a1a" stroke-width="0.2">PC1(46.4%)</text>
<text transform="translate(268.84 60.00) rotate(-90) scale(1 1.06)" font-size="8" text-anchor="middle" fill="#1a1a1a" stroke="#1a1a1a" stroke-width="0.2">PC2(16.38%)</text>
<text transform="translate(454.50 13.14) scale(1 1.06)" font-size="8" text-anchor="middle" fill="#1a1a1a" stroke="#1a1a1a" stroke-width="0.2">Cecum</text>
<text transform="translate(421.70 24.84) scale(1 1.06)" font-size="8" text-anchor="start" fill="#1a1a1a" stroke="#1a1a1a" stroke-width="0.2">r = 0.4898</text>
<text transform="translate(493.90 24.84) scale(1 1.06)" font-size="8" text-anchor="end" fill="#1a1a1a" stroke="#1a1a1a" stroke-width="0.2"><tspan font-style="italic">p</tspan> = 0.002</text>
<text transform="translate(412.80 40.23) scale(1 1.06)" font-size="7.7" text-anchor="end" fill="#1a1a1a" stroke="#1a1a1a" stroke-width="0.2">0.5</text>
<text transform="translate(412.80 57.83) scale(1 1.06)" font-size="7.7" text-anchor="end" fill="#1a1a1a" stroke="#1a1a1a" stroke-width="0.2">0.0</text>
<text transform="translate(412.80 75.83) scale(1 1.06)" font-size="7.7" text-anchor="end" fill="#1a1a1a" stroke="#1a1a1a" stroke-width="0.2">-0.5</text>
<text transform="translate(412.80 93.83) scale(1 1.06)" font-size="7.7" text-anchor="end" fill="#1a1a1a" stroke="#1a1a1a" stroke-width="0.2">-1.0</text>
<text transform="translate(422.00 108.03) scale(1 1.06)" font-size="7.7" text-anchor="middle" fill="#1a1a1a" stroke="#1a1a1a" stroke-width="0.2">-0.8</text>
<text transform="translate(441.00 108.03) scale(1 1.06)" font-size="7.7" text-anchor="middle" fill="#1a1a1a" stroke="#1a1a1a" stroke-width="0.2">-0.4</text>
<text transform="translate(460.60 108.03) scale(1 1.06)" font-size="7.7" text-anchor="middle" fill="#1a1a1a" stroke="#1a1a1a" stroke-width="0.2">0.0</text>
<text transform="translate(480.10 108.03) scale(1 1.06)" font-size="7.7" text-anchor="middle" fill="#1a1a1a" stroke="#1a1a1a" stroke-width="0.2">0.4</text>
<text transform="translate(455.70 116.84) scale(1 1.06)" font-size="8" text-anchor="middle" fill="#1a1a1a" stroke="#1a1a1a" stroke-width="0.2">PC1(35.06%)</text>
<text transform="translate(396.14 61.00) rotate(-90) scale(1 1.06)" font-size="8" text-anchor="middle" fill="#1a1a1a" stroke="#1a1a1a" stroke-width="0.2">PC2(18.25%)</text>
<text transform="translate(579.40 12.64) scale(1 1.06)" font-size="8" text-anchor="middle" fill="#1a1a1a" stroke="#1a1a1a" stroke-width="0.2">Colon</text>
<text transform="translate(541.40 22.74) scale(1 1.06)" font-size="8" text-anchor="start" fill="#1a1a1a" stroke="#1a1a1a" stroke-width="0.2">r = 0.2702</text>
<text transform="translate(618.00 22.74) scale(1 1.06)" font-size="8" text-anchor="end" fill="#1a1a1a" stroke="#1a1a1a" stroke-width="0.2"><tspan font-style="italic">p</tspan> = 0.023</text>
<text transform="translate(537.80 33.23) scale(1 1.06)" font-size="7.7" text-anchor="end" fill="#1a1a1a" stroke="#1a1a1a" stroke-width="0.2">0.5</text>
<text transform="translate(537.80 57.83) scale(1 1.06)" font-size="7.7" text-anchor="end" fill="#1a1a1a" stroke="#1a1a1a" stroke-width="0.2">0.0</text>
<text transform="translate(537.80 82.83) scale(1 1.06)" font-size="7.7" text-anchor="end" fill="#1a1a1a" stroke="#1a1a1a" stroke-width="0.2">-0.5</text>
<text transform="translate(557.30 108.03) scale(1 1.06)" font-size="7.7" text-anchor="middle" fill="#1a1a1a" stroke="#1a1a1a" stroke-width="0.2">-0.4</text>
<text transform="translate(575.70 108.03) scale(1 1.06)" font-size="7.7" text-anchor="middle" fill="#1a1a1a" stroke="#1a1a1a" stroke-width="0.2">0.0</text>
<text transform="translate(594.80 108.03) scale(1 1.06)" font-size="7.7" text-anchor="middle" fill="#1a1a1a" stroke="#1a1a1a" stroke-width="0.2">0.4</text>
<text transform="translate(614.00 108.03) scale(1 1.06)" font-size="7.7" text-anchor="middle" fill="#1a1a1a" stroke="#1a1a1a" stroke-width="0.2">0.8</text>
<text transform="translate(582.50 117.04) scale(1 1.06)" font-size="8" text-anchor="middle" fill="#1a1a1a" stroke="#1a1a1a" stroke-width="0.2">PC1(26.53%)</text>
<text transform="translate(521.04 60.00) rotate(-90) scale(1 1.06)" font-size="8" text-anchor="middle" fill="#1a1a1a" stroke="#1a1a1a" stroke-width="0.2">PC2(18.86%)</text>
<text transform="translate(638.50 13.54) scale(1 1.06)" font-size="8" text-anchor="start" fill="#1a1a1a" stroke="#1a1a1a" stroke-width="0.2">H-Duodenum</text>
<text transform="translate(638.50 21.84) scale(1 1.06)" font-size="8" text-anchor="start" fill="#1a1a1a" stroke="#1a1a1a" stroke-width="0.2">L-Duodenum</text>
<text transform="translate(638.50 36.24) scale(1 1.06)" font-size="8" text-anchor="start" fill="#1a1a1a" stroke="#1a1a1a" stroke-width="0.2">H-Jejunum</text>
<text transform="translate(638.50 45.24) scale(1 1.06)" font-size="8" text-anchor="start" fill="#1a1a1a" stroke="#1a1a1a" stroke-width="0.2">L-Jejunum</text>
<text transform="translate(638.50 59.94) scale(1 1.06)" font-size="8" text-anchor="start" fill="#1a1a1a" stroke="#1a1a1a" stroke-width="0.2">H-Ileum</text>
<text transform="translate(638.50 68.74) scale(1 1.06)" font-size="8" text-anchor="start" fill="#1a1a1a" stroke="#1a1a1a" stroke-width="0.2">L-Ileum</text>
<text transform="translate(638.50 83.94) scale(1 1.06)" font-size="8" text-anchor="start" fill="#1a1a1a" stroke="#1a1a1a" stroke-width="0.2">H-Cecum</text>
<text transform="translate(638.50 92.44) scale(1 1.06)" font-size="8" text-anchor="start" fill="#1a1a1a" stroke="#1a1a1a" stroke-width="0.2">L-Cecum</text>
<text transform="translate(638.50 107.84) scale(1 1.06)" font-size="8" text-anchor="start" fill="#1a1a1a" stroke="#1a1a1a" stroke-width="0.2">H-Colon</text>
<text transform="translate(638.50 116.24) scale(1 1.06)" font-size="8" text-anchor="start" fill="#1a1a1a" stroke="#1a1a1a" stroke-width="0.2">L-Colon</text>
<text transform="translate(37.70 148.14) scale(1 1.06)" font-size="8" text-anchor="end" fill="#1a1a1a" stroke="#1a1a1a" stroke-width="0.2">100</text>
<text transform="translate(37.70 174.14) scale(1 1.06)" font-size="8" text-anchor="end" fill="#1a1a1a" stroke="#1a1a1a" stroke-width="0.2">75</text>
<text transform="translate(37.70 200.44) scale(1 1.06)" font-size="8" text-anchor="end" fill="#1a1a1a" stroke="#1a1a1a" stroke-width="0.2">50</text>
<text transform="translate(37.70 225.04) scale(1 1.06)" font-size="8" text-anchor="end" fill="#1a1a1a" stroke="#1a1a1a" stroke-width="0.2">25</text>
<text transform="translate(37.70 248.54) scale(1 1.06)" font-size="8" text-anchor="end" fill="#1a1a1a" stroke="#1a1a1a" stroke-width="0.2">0</text>
<text transform="translate(20.74 195.00) rotate(-90) scale(1 1.06)" font-size="8" text-anchor="middle" fill="#1a1a1a" stroke="#1a1a1a" stroke-width="0.2">Relative abundance (%)</text>
<text transform="translate(67.20 258.24) scale(1 1.06)" font-size="8" text-anchor="middle" fill="#1a1a1a" stroke="#1a1a1a" stroke-width="0.2">H-Duodenum</text>
<text transform="translate(121.00 258.24) scale(1 1.06)" font-size="8" text-anchor="middle" fill="#1a1a1a" stroke="#1a1a1a" stroke-width="0.2">L-Duodenum</text>
<text transform="translate(174.80 258.24) scale(1 1.06)" font-size="8" text-anchor="middle" fill="#1a1a1a" stroke="#1a1a1a" stroke-width="0.2">H-Jejunum</text>
<text transform="translate(228.60 258.24) scale(1 1.06)" font-size="8" text-anchor="middle" fill="#1a1a1a" stroke="#1a1a1a" stroke-width="0.2">L-Jejunum</text>
<text transform="translate(282.40 258.24) scale(1 1.06)" font-size="8" text-anchor="middle" fill="#1a1a1a" stroke="#1a1a1a" stroke-width="0.2">H-Ileum</text>
<text transform="translate(336.20 258.24) scale(1 1.06)" font-size="8" text-anchor="middle" fill="#1a1a1a" stroke="#1a1a1a" stroke-width="0.2">L-Ileum</text>
<text transform="translate(390.00 258.24) scale(1 1.06)" font-size="8" text-anchor="middle" fill="#1a1a1a" stroke="#1a1a1a" stroke-width="0.2">H-Cecum</text>
<text transform="translate(443.80 258.24) scale(1 1.06)" font-size="8" text-anchor="middle" fill="#1a1a1a" stroke="#1a1a1a" stroke-width="0.2">L-Cecum</text>
<text transform="translate(497.60 258.24) scale(1 1.06)" font-size="8" text-anchor="middle" fill="#1a1a1a" stroke="#1a1a1a" stroke-width="0.2">H-Colon</text>
<text transform="translate(551.40 258.24) scale(1 1.06)" font-size="8" text-anchor="middle" fill="#1a1a1a" stroke="#1a1a1a" stroke-width="0.2">L-Colon</text>
<text transform="translate(594.00 151.54) scale(1 1.06)" font-size="8" text-anchor="start" fill="#1a1a1a" stroke="#1a1a1a" stroke-width="0.2">Firmicutes</text>
<text transform="translate(594.00 161.64) scale(1 1.06)" font-size="8" text-anchor="start" fill="#1a1a1a" stroke="#1a1a1a" stroke-width="0.2">Bacteroidetes</text>
<text transform="translate(594.00 171.74) scale(1 1.06)" font-size="8" text-anchor="start" fill="#1a1a1a" stroke="#1a1a1a" stroke-width="0.2">Proteobacteria</text>
<text transform="translate(594.00 181.84) scale(1 1.06)" font-size="8" text-anchor="start" fill="#1a1a1a" stroke="#1a1a1a" stroke-width="0.2">Tenericutes</text>
<text transform="translate(594.00 191.94) scale(1 1.06)" font-size="8" text-anchor="start" fill="#1a1a1a" stroke="#1a1a1a" stroke-width="0.2">Actinobacteria</text>
<text transform="translate(594.00 202.04) scale(1 1.06)" font-size="8" text-anchor="start" fill="#1a1a1a" stroke="#1a1a1a" stroke-width="0.2">Cyanobacteria</text>
<text transform="translate(594.00 212.14) scale(1 1.06)" font-size="8" text-anchor="start" fill="#1a1a1a" stroke="#1a1a1a" stroke-width="0.2">Fusobacteria</text>
<text transform="translate(594.00 222.24) scale(1 1.06)" font-size="8" text-anchor="start" fill="#1a1a1a" stroke="#1a1a1a" stroke-width="0.2">Planctomycetes</text>
<text transform="translate(594.00 232.34) scale(1 1.06)" font-size="8" text-anchor="start" fill="#1a1a1a" stroke="#1a1a1a" stroke-width="0.2">Acidobacteria</text>
<text transform="translate(594.00 242.44) scale(1 1.06)" font-size="8" text-anchor="start" fill="#1a1a1a" stroke="#1a1a1a" stroke-width="0.2">Others</text>
<text transform="translate(37.70 286.54) scale(1 1.06)" font-size="8" text-anchor="end" fill="#1a1a1a" stroke="#1a1a1a" stroke-width="0.2">100</text>
<text transform="translate(37.70 311.34) scale(1 1.06)" font-size="8" text-anchor="end" fill="#1a1a1a" stroke="#1a1a1a" stroke-width="0.2">75</text>
<text transform="translate(37.70 336.44) scale(1 1.06)" font-size="8" text-anchor="end" fill="#1a1a1a" stroke="#1a1a1a" stroke-width="0.2">50</text>
<text transform="translate(37.70 360.84) scale(1 1.06)" font-size="8" text-anchor="end" fill="#1a1a1a" stroke="#1a1a1a" stroke-width="0.2">25</text>
<text transform="translate(37.70 385.24) scale(1 1.06)" font-size="8" text-anchor="end" fill="#1a1a1a" stroke="#1a1a1a" stroke-width="0.2">0</text>
<text transform="translate(20.74 336.00) rotate(-90) scale(1 1.06)" font-size="8" text-anchor="middle" fill="#1a1a1a" stroke="#1a1a1a" stroke-width="0.2">Relative abundance (%)</text>
<text transform="translate(67.20 397.94) scale(1 1.06)" font-size="8" text-anchor="middle" fill="#1a1a1a" stroke="#1a1a1a" stroke-width="0.2">H-Duodenum</text>
<text transform="translate(121.00 397.94) scale(1 1.06)" font-size="8" text-anchor="middle" fill="#1a1a1a" stroke="#1a1a1a" stroke-width="0.2">L-Duodenum</text>
<text transform="translate(174.80 397.94) scale(1 1.06)" font-size="8" text-anchor="middle" fill="#1a1a1a" stroke="#1a1a1a" stroke-width="0.2">H-Jejunum</text>
<text transform="translate(228.60 397.94) scale(1 1.06)" font-size="8" text-anchor="middle" fill="#1a1a1a" stroke="#1a1a1a" stroke-width="0.2">L-Jejunum</text>
<text transform="translate(282.40 397.94) scale(1 1.06)" font-size="8" text-anchor="middle" fill="#1a1a1a" stroke="#1a1a1a" stroke-width="0.2">H-Ileum</text>
<text transform="translate(336.20 397.94) scale(1 1.06)" font-size="8" text-anchor="middle" fill="#1a1a1a" stroke="#1a1a1a" stroke-width="0.2">L-Ileum</text>
<text transform="translate(390.00 397.94) scale(1 1.06)" font-size="8" text-anchor="middle" fill="#1a1a1a" stroke="#1a1a1a" stroke-width="0.2">H-Cecum</text>
<text transform="translate(443.80 397.94) scale(1 1.06)" font-size="8" text-anchor="middle" fill="#1a1a1a" stroke="#1a1a1a" stroke-width="0.2">L-Cecum</text>
<text transform="translate(497.60 397.94) scale(1 1.06)" font-size="8" text-anchor="middle" fill="#1a1a1a" stroke="#1a1a1a" stroke-width="0.2">H-Colon</text>
<text transform="translate(551.40 397.94) scale(1 1.06)" font-size="8" text-anchor="middle" fill="#1a1a1a" stroke="#1a1a1a" stroke-width="0.2">L-Colon</text>
<text transform="translate(595.00 290.34) scale(1 1.06)" font-size="8" text-anchor="start" fill="#1a1a1a" stroke="#1a1a1a" stroke-width="0.2" font-style="italic">Lactobacillus</text>
<text transform="translate(595.00 300.44) scale(1 1.06)" font-size="8" text-anchor="start" fill="#1a1a1a" stroke="#1a1a1a" stroke-width="0.2" font-style="italic">Clostridium sensu stricto1</text>
<text transform="translate(595.00 310.54) scale(1 1.06)" font-size="8" text-anchor="start" fill="#1a1a1a" stroke="#1a1a1a" stroke-width="0.2" font-style="italic">Terrisporobacter</text>
<text transform="translate(595.00 320.64) scale(1 1.06)" font-size="8" text-anchor="start" fill="#1a1a1a" stroke="#1a1a1a" stroke-width="0.2" font-style="italic">Veillonella</text>
<text transform="translate(595.00 330.74) scale(1 1.06)" font-size="8" text-anchor="start" fill="#1a1a1a" stroke="#1a1a1a" stroke-width="0.2" font-style="italic">Bacteroidales S24−7group</text>
<text transform="translate(595.00 340.84) scale(1 1.06)" font-size="8" text-anchor="start" fill="#1a1a1a" stroke="#1a1a1a" stroke-width="0.2" font-style="italic">Prevotellaceae NK3B31group</text>
<text transform="translate(595.00 350.94) scale(1 1.06)" font-size="8" text-anchor="start" fill="#1a1a1a" stroke="#1a1a1a" stroke-width="0.2" font-style="italic">Romboutsia</text>
<text transform="translate(595.00 361.04) scale(1 1.06)" font-size="8" text-anchor="start" fill="#1a1a1a" stroke="#1a1a1a" stroke-width="0.2" font-style="italic">Ruminococcaceae UCG−005</text>
<text transform="translate(595.00 371.14) scale(1 1.06)" font-size="8" text-anchor="start" fill="#1a1a1a" stroke="#1a1a1a" stroke-width="0.2" font-style="italic">Prevotella 9</text>
<text transform="translate(595.00 381.24) scale(1 1.06)" font-size="8" text-anchor="start" fill="#1a1a1a" stroke="#1a1a1a" stroke-width="0.2">Others</text>
<text transform="translate(63.20 430.54) scale(1 1.06)" font-size="8" text-anchor="middle" fill="#1a1a1a" stroke="#1a1a1a" stroke-width="0.2">Jejunum</text>
<text transform="translate(39.90 437.33) scale(1 1.06)" font-size="7.7" text-anchor="end" fill="#1a1a1a" stroke="#1a1a1a" stroke-width="0.2">100</text>
<text transform="translate(39.90 471.13) scale(1 1.06)" font-size="7.7" text-anchor="end" fill="#1a1a1a" stroke="#1a1a1a" stroke-width="0.2">50</text>
<text transform="translate(39.90 505.03) scale(1 1.06)" font-size="7.7" text-anchor="end" fill="#1a1a1a" stroke="#1a1a1a" stroke-width="0.2">0</text>
<text transform="translate(55.10 510.14) scale(1 1.06)" font-size="8" text-anchor="middle" fill="#1a1a1a" stroke="#1a1a1a" stroke-width="0.2">H</text>
<text transform="translate(71.05 510.14) scale(1 1.06)" font-size="8" text-anchor="middle" fill="#1a1a1a" stroke="#1a1a1a" stroke-width="0.2">L</text>
<text transform="translate(102.20 439.64) scale(1 1.06)" font-size="8" text-anchor="start" fill="#1a1a1a" stroke="#1a1a1a" stroke-width="0.2" font-style="italic">Lactobacillus</text>
<text transform="translate(102.20 448.74) scale(1 1.06)" font-size="8" text-anchor="start" fill="#1a1a1a" stroke="#1a1a1a" stroke-width="0.2">Others</text>
<text transform="translate(189.30 430.54) scale(1 1.06)" font-size="8" text-anchor="middle" fill="#1a1a1a" stroke="#1a1a1a" stroke-width="0.2">Ileum</text>
<text transform="translate(166.50 438.33) scale(1 1.06)" font-size="7.7" text-anchor="end" fill="#1a1a1a" stroke="#1a1a1a" stroke-width="0.2">100</text>
<text transform="translate(166.50 472.13) scale(1 1.06)" font-size="7.7" text-anchor="end" fill="#1a1a1a" stroke="#1a1a1a" stroke-width="0.2">50</text>
<text transform="translate(166.50 505.03) scale(1 1.06)" font-size="7.7" text-anchor="end" fill="#1a1a1a" stroke="#1a1a1a" stroke-width="0.2">0</text>
<text transform="translate(181.60 510.14) scale(1 1.06)" font-size="8" text-anchor="middle" fill="#1a1a1a" stroke="#1a1a1a" stroke-width="0.2">H</text>
<text transform="translate(197.00 510.14) scale(1 1.06)" font-size="8" text-anchor="middle" fill="#1a1a1a" stroke="#1a1a1a" stroke-width="0.2">L</text>
<text transform="translate(227.80 441.24) scale(1 1.06)" font-size="8" text-anchor="start" fill="#1a1a1a" stroke="#1a1a1a" stroke-width="0.2" font-style="italic">Lactobacillus</text>
<text transform="translate(227.80 450.94) scale(1 1.06)" font-size="8" text-anchor="start" fill="#1a1a1a" stroke="#1a1a1a" stroke-width="0.2" font-style="italic">Veillonella</text>
<text transform="translate(227.80 471.04) scale(1 1.06)" font-size="8" text-anchor="start" fill="#1a1a1a" stroke="#1a1a1a" stroke-width="0.2" font-style="italic">Terrisporobacter</text>
<text transform="translate(227.80 482.04) scale(1 1.06)" font-size="8" text-anchor="start" fill="#1a1a1a" stroke="#1a1a1a" stroke-width="0.2" font-style="italic">Romboutsia</text>
<text transform="translate(227.80 492.84) scale(1 1.06)" font-size="8" text-anchor="start" fill="#1a1a1a" stroke="#1a1a1a" stroke-width="0.2" font-style="italic">Turicibacter</text>
<text transform="translate(353.90 430.54) scale(1 1.06)" font-size="8" text-anchor="middle" fill="#1a1a1a" stroke="#1a1a1a" stroke-width="0.2">Cecum</text>
<text transform="translate(332.80 438.33) scale(1 1.06)" font-size="7.7" text-anchor="end" fill="#1a1a1a" stroke="#1a1a1a" stroke-width="0.2">30</text>
<text transform="translate(332.80 460.93) scale(1 1.06)" font-size="7.7" text-anchor="end" fill="#1a1a1a" stroke="#1a1a1a" stroke-width="0.2">20</text>
<text transform="translate(332.80 483.33) scale(1 1.06)" font-size="7.7" text-anchor="end" fill="#1a1a1a" stroke="#1a1a1a" stroke-width="0.2">10</text>
<text transform="translate(332.80 505.13) scale(1 1.06)" font-size="7.7" text-anchor="end" fill="#1a1a1a" stroke="#1a1a1a" stroke-width="0.2">0</text>
<text transform="translate(348.45 510.14) scale(1 1.06)" font-size="8" text-anchor="middle" fill="#1a1a1a" stroke="#1a1a1a" stroke-width="0.2">H</text>
<text transform="translate(364.40 510.14) scale(1 1.06)" font-size="8" text-anchor="middle" fill="#1a1a1a" stroke="#1a1a1a" stroke-width="0.2">L</text>
<text transform="translate(393.00 450.04) scale(1 1.06)" font-size="8" text-anchor="start" fill="#1a1a1a" stroke="#1a1a1a" stroke-width="0.2" font-style="italic">Terrisporobacter</text>
<text transform="translate(393.00 460.34) scale(1 1.06)" font-size="8" text-anchor="start" fill="#1a1a1a" stroke="#1a1a1a" stroke-width="0.2" font-style="italic">Prevotellaceae NK3B31 group</text>
<text transform="translate(393.00 470.64) scale(1 1.06)" font-size="8" text-anchor="start" fill="#1a1a1a" stroke="#1a1a1a" stroke-width="0.2" font-style="italic">Prevotella 1</text>
<text transform="translate(535.90 430.54) scale(1 1.06)" font-size="8" text-anchor="middle" fill="#1a1a1a" stroke="#1a1a1a" stroke-width="0.2">Colon</text>
<text transform="translate(513.80 438.13) scale(1 1.06)" font-size="7.7" text-anchor="end" fill="#1a1a1a" stroke="#1a1a1a" stroke-width="0.2">30</text>
<text transform="translate(513.80 460.13) scale(1 1.06)" font-size="7.7" text-anchor="end" fill="#1a1a1a" stroke="#1a1a1a" stroke-width="0.2">20</text>
<text transform="translate(513.80 483.13) scale(1 1.06)" font-size="7.7" text-anchor="end" fill="#1a1a1a" stroke="#1a1a1a" stroke-width="0.2">10</text>
<text transform="translate(513.80 505.13) scale(1 1.06)" font-size="7.7" text-anchor="end" fill="#1a1a1a" stroke="#1a1a1a" stroke-width="0.2">0</text>
<text transform="translate(529.80 510.14) scale(1 1.06)" font-size="8" text-anchor="middle" fill="#1a1a1a" stroke="#1a1a1a" stroke-width="0.2">H</text>
<text transform="translate(545.35 510.14) scale(1 1.06)" font-size="8" text-anchor="middle" fill="#1a1a1a" stroke="#1a1a1a" stroke-width="0.2">L</text>
<text transform="translate(576.80 450.14) scale(1 1.06)" font-size="8" text-anchor="start" fill="#1a1a1a" stroke="#1a1a1a" stroke-width="0.2" font-style="italic">Bacteroidales S24-7 group_norank</text>
<text transform="translate(576.80 460.44) scale(1 1.06)" font-size="8" text-anchor="start" fill="#1a1a1a" stroke="#1a1a1a" stroke-width="0.2" font-style="italic">Ruminococcaceae UCG-005</text>
<text transform="translate(576.80 470.74) scale(1 1.06)" font-size="8" text-anchor="start" fill="#1a1a1a" stroke="#1a1a1a" stroke-width="0.2" font-style="italic">Prevotella 1</text>
<text transform="translate(21.04 467.70) rotate(-90) scale(1 1.06)" font-size="8" text-anchor="middle" fill="#1a1a1a" stroke="#1a1a1a" stroke-width="0.2">Relative abundance (%)</text>
</g>
</svg>
</body></html>
